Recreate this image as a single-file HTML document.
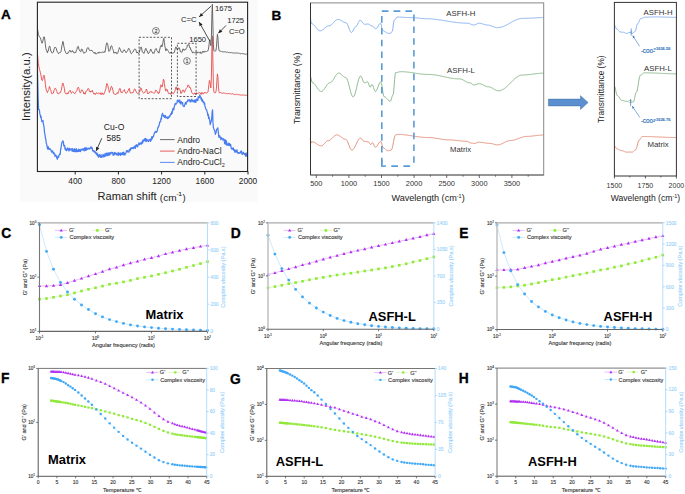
<!DOCTYPE html>
<html><head><meta charset="utf-8"><style>
html,body{margin:0;padding:0;background:#fff;width:685px;height:494px;overflow:hidden}
svg{display:block;font-family:"Liberation Sans",sans-serif}
</style></head><body>
<svg width="685" height="494" viewBox="0 0 685 494">
<defs><clipPath id="clipA"><rect x="37.4" y="2.2" width="210.2" height="169.3"/></clipPath></defs>
<rect width="685" height="494" fill="#fff"/>
<rect x="20" y="0" width="237.5" height="202" fill="#fafafa"/>
<g clip-path="url(#clipA)">
<polyline points="37.4,69.27 37.8,83.61 38.2,99.05 38.6,109.47 39,109.42 39.4,110.09 39.8,113.65 40.2,114.72 40.6,117.47 41,116.05 41.4,118.91 41.8,121.68 42.2,121.31 42.6,121.29 43,120.64 43.4,123.82 43.8,125.55 44.2,128.2 44.6,133.37 45,134.55 45.4,138.24 45.8,138.85 46.2,143.03 46.6,144.12 47,145.98 47.4,148.17 47.8,149.17 48.2,146.74 48.6,148.83 49,149.34 49.4,148.4 49.8,149.34 50.2,148.97 50.6,149.56 51,150.12 51.4,151.67 51.8,152.22 52.2,151.08 52.6,150.81 53,152.26 53.4,153.83 53.8,152.53 54.2,153.5 54.6,153.71 55,156.31 55.4,156.05 55.8,154.98 56.2,155.7 56.6,157.28 57,158.39 57.4,159.27 57.8,156.67 58.2,156.18 58.6,157.25 59,155.54 59.4,154.37 59.8,153.72 60.2,154.34 60.6,149.76 61,148.23 61.4,145.11 61.8,142.92 62.2,142.04 62.6,141.16 63,140.87 63.4,142.17 63.8,145.84 64.2,145.33 64.6,145.34 65,149.07 65.4,148.12 65.8,150.15 66.2,149.1 66.6,150.75 67,149.35 67.4,148.36 67.8,147.89 68.2,149.75 68.6,150.08 69,151.03 69.4,148.27 69.8,150.11 70.2,149.29 70.6,149.78 71,148.59 71.4,149.09 71.8,149.93 72.2,151.33 72.6,148.59 73,149.92 73.4,151.02 73.8,151.6 74.2,149.02 74.6,148.81 75,151.61 75.4,151.76 75.8,150.11 76.2,148.68 76.6,151.68 77,149.88 77.4,151.67 77.8,150.74 78.2,151.46 78.6,149.23 79,151.39 79.4,149.51 79.8,150.16 80.2,151.64 80.6,151.49 81,149.21 81.4,149.25 81.8,149.78 82.2,150.09 82.6,149.55 83,148.58 83.4,148.92 83.8,150.46 84.2,150.96 84.6,147.97 85,149.65 85.4,150.23 85.8,147.7 86.2,150.34 86.6,147.8 87,149.36 87.4,149.1 87.8,149.28 88.2,148.1 88.6,148.41 89,148.87 89.4,148.26 89.8,148.96 90.2,148.16 90.6,148.04 91,146.55 91.4,148.49 91.8,147.96 92.2,147.83 92.6,150.35 93,151.13 93.4,150.77 93.8,150.55 94.2,152.09 94.6,151.21 95,151.65 95.4,153.04 95.8,152.26 96.2,153.82 96.6,154.41 97,153.18 97.4,155.57 97.8,154.06 98.2,156.64 98.6,157.15 99,156.27 99.4,154.62 99.8,156.06 100.2,155.54 100.6,157.4 101,154.53 101.4,156.89 101.8,157.27 102.2,156.28 102.6,156.47 103,154.27 103.4,156.86 103.8,155.1 104.2,156.59 104.6,156.36 105,153.71 105.4,155.74 105.8,156.13 106.2,153.1 106.6,153.98 107,155.26 107.4,153.14 107.8,155.55 108.2,153.35 108.6,155.1 109,152.72 109.4,153.85 109.8,155.17 110.2,152.71 110.6,152.89 111,153.72 111.4,153.08 111.8,152.13 112.2,152.62 112.6,152.55 113,155.18 113.4,154.31 113.8,155.04 114.2,152.57 114.6,154.67 115,152.39 115.4,153.8 115.8,154.16 116.2,153.22 116.6,154.97 117,153.89 117.4,153.97 117.8,155 118.2,152.36 118.6,155.38 119,154.14 119.4,153.34 119.8,154.71 120.2,152.9 120.6,155.37 121,153.96 121.4,153.22 121.8,154.6 122.2,153.5 122.6,152.6 123,154.53 123.4,152.16 123.8,154.79 124.2,152.86 124.6,154.11 125,155.03 125.4,153.42 125.8,153.44 126.2,151.99 126.6,150.68 127,150.54 127.4,150.68 127.8,152.01 128.2,151.14 128.6,151.16 129,152.21 129.4,149.36 129.8,149.43 130.2,150.63 130.6,148.23 131,147.91 131.4,148.86 131.8,147.76 132.2,148.36 132.6,147.66 133,148.63 133.4,148.39 133.8,146.83 134.2,148.01 134.6,147.25 135,145.84 135.4,148.31 135.8,145.7 136.2,145.13 136.6,144.7 137,146.29 137.4,146.83 137.8,146.27 138.2,144.73 138.6,143.97 139,142.82 139.4,144.67 139.8,144.09 140.2,143.07 140.6,143.78 141,142.79 141.4,144.17 141.8,143.18 142.2,141.23 142.6,143.16 143,139.94 143.4,141.3 143.8,140.58 144.2,139.71 144.6,138.8 145,140.95 145.4,138.41 145.8,140.32 146.2,141.72 146.6,139.07 147,139.34 147.4,140.8 147.8,140.53 148.2,141.06 148.6,141.71 149,139.61 149.4,140.14 149.8,140.18 150.2,139.07 150.6,141.33 151,140.37 151.4,139.54 151.8,136.53 152.2,138.79 152.6,137.85 153,136.3 153.4,136.65 153.8,135.06 154.2,133.7 154.6,132.69 155,132.52 155.4,131.27 155.8,131.68 156.2,132.49 156.6,131.71 157,131.62 157.4,130.42 157.8,127.71 158.2,127.5 158.6,125.91 159,125.91 159.4,123.82 159.8,121.75 160.2,121.84 160.6,121.74 161,118.01 161.4,119.07 161.8,114.93 162.2,114.57 162.6,113.3 163,114.83 163.4,116.31 163.8,116.44 164.2,115.47 164.6,117.46 165,115.7 165.4,115.51 165.8,117.9 166.2,117.07 166.6,117.4 167,117.42 167.4,118.6 167.8,116.98 168.2,118.36 168.6,117.48 169,117.64 169.4,115.83 169.8,116.42 170.2,115.5 170.6,114.22 171,113.51 171.4,114.39 171.8,111.62 172.2,113.53 172.6,110.01 173,108.7 173.4,108.05 173.8,109.93 174.2,107.03 174.6,105.42 175,104.12 175.4,103.25 175.8,104.54 176.2,103.54 176.6,103.27 177,102.93 177.4,100.16 177.8,101.47 178.2,100.22 178.6,101.28 179,101.69 179.4,102.35 179.8,99.95 180.2,103.08 180.6,103.65 181,104.16 181.4,101.72 181.8,102.46 182.2,102.55 182.6,102.69 183,105.86 183.4,106.15 183.8,105.95 184.2,106.58 184.6,105.47 185,103.85 185.4,102.77 185.8,102.31 186.2,104.11 186.6,101.78 187,101.72 187.4,101.62 187.8,99.81 188.2,100.16 188.6,99.8 189,100.95 189.4,99.83 189.8,99.74 190.2,101.99 190.6,100.49 191,101.74 191.4,101.01 191.8,99.08 192.2,100.45 192.6,100.59 193,101.8 193.4,100.42 193.8,101.7 194.2,101.2 194.6,100.17 195,102.43 195.4,99.88 195.8,102.42 196.2,100.28 196.6,99.09 197,99.16 197.4,100.46 197.8,100.58 198.2,96.66 198.6,97.7 199,97.09 199.4,97.52 199.8,94.83 200.2,96.59 200.6,96.8 201,99.16 201.4,97.93 201.8,100.96 202.2,99.43 202.6,99.9 203,102.26 203.4,102.29 203.8,101.68 204.2,104.18 204.6,103 205,106.49 205.4,107.39 205.8,108.91 206.2,109.58 206.6,109.87 207,111.24 207.4,112.43 207.8,115.32 208.2,114.06 208.6,118.34 209,116.95 209.4,119.12 209.8,120.87 210.2,124.59 210.6,123.15 211,121.02 211.4,121.02 211.8,117.09 212.2,111.3 212.6,109.79 213,123.28 213.4,127.62 213.8,128.8 214.2,129.33 214.6,130.8 215,131.76 215.4,134.4 215.8,132.86 216.2,132.21 216.6,129.34 217,129.01 217.4,128.6 217.8,127.87 218.2,130.73 218.6,135.3 219,137.28 219.4,135.61 219.8,135.98 220.2,136.89 220.6,138.79 221,139.74 221.4,137.7 221.8,138.01 222.2,138.27 222.6,138.95 223,140.19 223.4,138.76 223.8,139.86 224.2,139.5 224.6,143.57 225,142.69 225.4,139.98 225.8,144.41 226.2,140.58 226.6,142.24 227,145.42 227.4,144.82 227.8,144.93 228.2,143.9 228.6,143.16 229,145.69 229.4,143.54 229.8,144.43 230.2,145.71 230.6,144.41 231,146.57 231.4,148.86 231.8,148.8 232.2,148.28 232.6,149.32 233,148.91 233.4,147.77 233.8,150.4 234.2,149.59 234.6,151.35 235,152.3 235.4,150.15 235.8,150.99 236.2,151.98 236.6,150.56 237,149.78 237.4,152.3 237.8,153.2 238.2,152.84 238.6,152.63 239,153.51 239.4,152.83 239.8,152.79 240.2,152.04 240.6,151.51 241,153.18 241.4,150.78 241.8,152.48 242.2,154.37 242.6,154.19 243,153.93 243.4,152.26 243.8,153.25 244.2,153.55 244.6,154.5 245,153.63 245.4,155.05 245.8,156.43 246.2,152.99 246.6,155.4 247,156.15 247.4,154.43" fill="none" stroke="#4a7ef0" stroke-width="1.25" stroke-linejoin="round"/>
<polyline points="37.4,52.62 37.9,58.46 38.4,63.44 38.9,66.91 39.4,69.17 39.9,70.65 40.4,72.7 40.9,74.95 41.4,77.99 41.9,80.05 42.4,80.65 42.9,78.9 43.4,76.44 43.9,75.17 44.4,76.17 44.9,79.83 45.4,84.17 45.9,88.03 46.4,90.38 46.9,91.63 47.4,92.64 47.9,91.29 48.4,89.91 48.9,89.43 49.4,86.47 49.9,87.91 50.4,89.48 50.9,90.29 51.4,93.24 51.9,93.97 52.4,93.58 52.9,93.59 53.4,93.12 53.9,90.59 54.4,89.77 54.9,88.27 55.4,88.34 55.9,88.9 56.4,90.44 56.9,91.58 57.4,93.42 57.9,93.67 58.4,93.98 58.9,93.15 59.4,92.73 59.9,92.77 60.4,92.7 60.9,90.97 61.4,90.22 61.9,86.7 62.4,84.12 62.9,83 63.4,84.22 63.9,86.56 64.4,88.56 64.9,92.36 65.4,93.49 65.9,93.52 66.4,93.76 66.9,94.04 67.4,92.83 67.9,94.02 68.4,92.63 68.9,91.47 69.4,90.87 69.9,91.21 70.4,90.4 70.9,92.27 71.4,93.38 71.9,92.45 72.4,91.81 72.9,91.69 73.4,92.29 73.9,93.05 74.4,93.35 74.9,93.7 75.4,92.5 75.9,92.11 76.4,91.23 76.9,90.64 77.4,88.19 77.9,87.89 78.4,87.15 78.9,88.59 79.4,90.61 79.9,92.53 80.4,92.77 80.9,92.01 81.4,90.06 81.9,89.77 82.4,90.02 82.9,91.22 83.4,91.74 83.9,94.02 84.4,92.85 84.9,94.29 85.4,93.8 85.9,91.25 86.4,91.15 86.9,90.76 87.4,90.11 87.9,88.62 88.4,88.46 88.9,89.11 89.4,91.63 89.9,91.07 90.4,92.22 90.9,91.07 91.4,91.14 91.9,91.55 92.4,90.22 92.9,92.51 93.4,92.82 93.9,94.15 94.4,94.02 94.9,93.14 95.4,94.49 95.9,93.66 96.4,92.74 96.9,92.7 97.4,93.67 97.9,93.59 98.4,93.29 98.9,92.97 99.4,93.37 99.9,93.32 100.4,94.36 100.9,92.69 101.4,94.18 101.9,94.36 102.4,92.92 102.9,94.52 103.4,94.07 103.9,94.32 104.4,92.7 104.9,91.91 105.4,90.12 105.9,88.72 106.4,85.28 106.9,83.44 107.4,84.18 107.9,86.13 108.4,88.34 108.9,90.36 109.4,92.43 109.9,90.63 110.4,90.3 110.9,87.15 111.4,86.22 111.9,87.15 112.4,88.09 112.9,90.39 113.4,93.08 113.9,93.83 114.4,94.09 114.9,93.87 115.4,94.47 115.9,94.53 116.4,93.75 116.9,94.05 117.4,92.56 117.9,93.44 118.4,91.79 118.9,90.79 119.4,89.21 119.9,88.34 120.4,89.05 120.9,92.43 121.4,92 121.9,93.07 122.4,92.45 122.9,91.33 123.4,90.92 123.9,90.62 124.4,89.54 124.9,91.52 125.4,92.04 125.9,93.31 126.4,93.23 126.9,92.62 127.4,91.92 127.9,90.68 128.4,90.44 128.9,88.66 129.4,88.54 129.9,91.41 130.4,93.13 130.9,92.99 131.4,92.76 131.9,92.97 132.4,92.73 132.9,92.98 133.4,91.78 133.9,90.73 134.4,89.13 134.9,88.79 135.4,89.86 135.9,91.08 136.4,91.95 136.9,92.91 137.4,93.52 137.9,93.32 138.4,93.19 138.9,92.34 139.4,91.93 139.9,91.7 140.4,88.06 140.9,87.65 141.4,88.43 141.9,90.69 142.4,91.25 142.9,92.49 143.4,92.87 143.9,93.11 144.4,92.67 144.9,92.61 145.4,91.1 145.9,90.37 146.4,89.02 146.9,90.24 147.4,92.82 147.9,93.95 148.4,93.38 148.9,93.55 149.4,91.97 149.9,91.95 150.4,92.04 150.9,91.26 151.4,91.58 151.9,92.71 152.4,92.19 152.9,92.47 153.4,92.75 153.9,93.35 154.4,93.12 154.9,92.57 155.4,90.82 155.9,89.9 156.4,90.49 156.9,91.07 157.4,92.49 157.9,92.2 158.4,93.9 158.9,92.49 159.4,92.76 159.9,90.07 160.4,86.76 160.9,84.77 161.4,85.29 161.9,87.1 162.4,86.65 162.9,82.5 163.4,79.23 163.9,79.9 164.4,83.32 164.9,87.32 165.4,89.84 165.9,91.16 166.4,89.22 166.9,89.16 167.4,89.85 167.9,92.05 168.4,92.65 168.9,93.89 169.4,93.39 169.9,93 170.4,93.05 170.9,94.47 171.4,93.96 171.9,93.17 172.4,92.59 172.9,93.53 173.4,93.81 173.9,92.99 174.4,91.83 174.9,91.04 175.4,89.59 175.9,87.02 176.4,87.08 176.9,89.19 177.4,90.36 177.9,90.42 178.4,87.96 178.9,88.14 179.4,88.57 179.9,89.9 180.4,91.11 180.9,93.62 181.4,92.35 181.9,92.68 182.4,90.49 182.9,89.8 183.4,90.96 183.9,90.62 184.4,92.39 184.9,91.36 185.4,90.08 185.9,89.12 186.4,88.31 186.9,87.62 187.4,87.21 187.9,84.98 188.4,85.32 188.9,85.31 189.4,87.61 189.9,87.03 190.4,88.06 190.9,89.26 191.4,90.95 191.9,92.78 192.4,93.34 192.9,93.44 193.4,94.22 193.9,94.23 194.4,93.1 194.9,92.85 195.4,94.37 195.9,94 196.4,92.57 196.9,93.83 197.4,93.26 197.9,93.25 198.4,93.17 198.9,92.84 199.4,92.51 199.9,93.06 200.4,93.16 200.9,94.31 201.4,92.58 201.9,94.21 202.4,92.63 202.9,92.87 203.4,93.75 203.9,93.69 204.4,92.85 204.9,92.03 205.4,92.85 205.9,92.74 206.4,93.05 206.9,92.6 207.4,92.6 207.9,92.24 208.4,89.28 208.9,84.64 209.4,80.48 209.9,81.04 210.4,85.39 210.9,87.93 211.4,77.25 211.9,48.13 212.4,36 212.9,61.12 213.4,85.63 213.9,91.97 214.4,92.63 214.9,93.07 215.4,92.8 215.9,91.9 216.4,88.79 216.9,80.62 217.4,73.9 217.9,76.97 218.4,86.1 218.9,91.44 219.4,92.68 219.9,93.05 220.4,92.55 220.9,92.73 221.4,92.93 221.9,93.27 222.4,93.32 222.9,93.03 223.4,93 223.9,93.15 224.4,93.24 224.9,93.55 225.4,93.16 225.9,93.58 226.4,93.59 226.9,93.69 227.4,93.71 227.9,93.67 228.4,93.55 228.9,93.59 229.4,93.67 229.9,93.97 230.4,93.6 230.9,93.72 231.4,94.11 231.9,93.86 232.4,93.8 232.9,93.83 233.4,94.19 233.9,94.11 234.4,94.55 234.9,94.54 235.4,94.66 235.9,94.27 236.4,94.21 236.9,94.27 237.4,94.56 237.9,94.74 238.4,94.63 238.9,94.56 239.4,94.72 239.9,94.89 240.4,94.97 240.9,95.07 241.4,95.18 241.9,95.12 242.4,94.85 242.9,95.33 243.4,95.05 243.9,95.26 244.4,95.2 244.9,95.47 245.4,95.2 245.9,95.28 246.4,95.33 246.9,95.32 247.4,95.81" fill="none" stroke="#e84a4a" stroke-width="0.9" stroke-linejoin="round"/>
<polyline points="37.4,28 37.9,31.5 38.4,34.47 38.9,35.77 39.4,36.81 39.9,37.1 40.4,37.72 40.9,39.63 41.4,41.47 41.9,43.22 42.4,42.88 42.9,40.88 43.4,38.25 43.9,36.71 44.4,37.05 44.9,40.32 45.4,44.74 45.9,48.49 46.4,50.52 46.9,51.51 47.4,52.8 47.9,50.48 48.4,50.78 48.9,47.78 49.4,46.15 49.9,46.34 50.4,48.41 50.9,51.41 51.4,51.47 51.9,52.87 52.4,53.1 52.9,52.35 53.4,52.05 53.9,49.9 54.4,48.28 54.9,47.11 55.4,47.45 55.9,47.57 56.4,48.83 56.9,51 57.4,51.95 57.9,52.31 58.4,53.59 58.9,53.48 59.4,52.55 59.9,53.05 60.4,52.43 60.9,51.9 61.4,49.4 61.9,45.54 62.4,44.21 62.9,41.37 63.4,43.09 63.9,46.48 64.4,48.24 64.9,51.13 65.4,51.45 65.9,53.23 66.4,53.6 66.9,53.25 67.4,53.83 67.9,52.55 68.4,52.9 68.9,51.89 69.4,50.88 69.9,50.05 70.4,51.05 70.9,52.06 71.4,51.76 71.9,52.17 72.4,50.55 72.9,51.51 73.4,51.59 73.9,52.88 74.4,53.13 74.9,52.36 75.4,52.49 75.9,52.53 76.4,50.15 76.9,49.45 77.4,47.3 77.9,46.36 78.4,46.61 78.9,49.38 79.4,49.7 79.9,51.05 80.4,51.54 80.9,51.78 81.4,49.01 81.9,49 82.4,49.56 82.9,51.42 83.4,52.52 83.9,53.33 84.4,52.38 84.9,52.53 85.4,52.01 85.9,52.36 86.4,51.52 86.9,48.79 87.4,47.9 87.9,47.55 88.4,47.75 88.9,49.03 89.4,50.28 89.9,50.54 90.4,50.43 90.9,50.99 91.4,50.19 91.9,50.14 92.4,51.23 92.9,51.62 93.4,52.2 93.9,52.97 94.4,53.33 94.9,52.15 95.4,53.85 95.9,53.62 96.4,53.8 96.9,53.65 97.4,52.84 97.9,52.85 98.4,52.26 98.9,53.32 99.4,52.17 99.9,52.18 100.4,52.46 100.9,52.37 101.4,52.72 101.9,52.15 102.4,52.04 102.9,52.33 103.4,52.2 103.9,52.6 104.4,51.53 104.9,52.27 105.4,49.92 105.9,46.38 106.4,43.96 106.9,42.77 107.4,43.41 107.9,45.18 108.4,49.29 108.9,51.5 109.4,51.05 109.9,50.38 110.4,47.95 110.9,46.21 111.4,45.73 111.9,46.01 112.4,48.73 112.9,49.32 113.4,50.57 113.9,53.32 114.4,52.88 114.9,52.25 115.4,53.08 115.9,52.06 116.4,53.06 116.9,53.92 117.4,53.54 117.9,52.72 118.4,50.76 118.9,49.36 119.4,47.6 119.9,48.66 120.4,49.36 120.9,51.49 121.4,51.75 121.9,51.92 122.4,52.73 122.9,52.06 123.4,50.49 123.9,49.62 124.4,50 124.9,51.04 125.4,51.24 125.9,52.57 126.4,52.5 126.9,51.69 127.4,51 127.9,50.17 128.4,48.49 128.9,48.39 129.4,49.36 129.9,49.83 130.4,52.35 130.9,53.41 131.4,53.73 131.9,52.66 132.4,52.33 132.9,52.09 133.4,51.33 133.9,50 134.4,49.21 134.9,48.79 135.4,49.11 135.9,49.88 136.4,51.77 136.9,53.02 137.4,51.98 137.9,53.23 138.4,53.67 138.9,53.12 139.4,52.21 139.9,50.06 140.4,47.5 140.9,47.56 141.4,47.17 141.9,49.91 142.4,52.09 142.9,52.08 143.4,52.51 143.9,53.54 144.4,52.56 144.9,50.38 145.4,48.99 145.9,48.26 146.4,50.12 146.9,51.12 147.4,51.03 147.9,53.14 148.4,53.73 148.9,53.02 149.4,52 149.9,51.6 150.4,49.78 150.9,48.97 151.4,51.14 151.9,51.4 152.4,52.07 152.9,53.45 153.4,52.63 153.9,53.38 154.4,52.74 154.9,50.44 155.4,49.21 155.9,48.52 156.4,48.76 156.9,50.65 157.4,51.23 157.9,52.29 158.4,51.93 158.9,53.17 159.4,50.96 159.9,49.02 160.4,46.64 160.9,45.64 161.4,44.95 161.9,46.98 162.4,45.58 162.9,42.66 163.4,39.46 163.9,38.21 164.4,42.35 164.9,46.23 165.4,48.72 165.9,50.88 166.4,48.87 166.9,48.83 167.4,49.7 167.9,50.57 168.4,51.34 168.9,52.48 169.4,52.87 169.9,53.42 170.4,52.08 170.9,52.99 171.4,52.37 171.9,52.42 172.4,53.41 172.9,52.87 173.4,52.9 173.9,52.99 174.4,52.45 174.9,49.91 175.4,48.28 175.9,46.89 176.4,47.35 176.9,49.21 177.4,49.74 177.9,49.43 178.4,47.83 178.9,47.74 179.4,47.81 179.9,49.95 180.4,51.89 180.9,51.52 181.4,52.16 181.9,52.23 182.4,51.02 182.9,48.94 183.4,48.99 183.9,50.23 184.4,49.94 184.9,50.16 185.4,49.16 185.9,49.32 186.4,48.35 186.9,47.4 187.4,44.93 187.9,45.42 188.4,45.16 188.9,44.47 189.4,46.74 189.9,47.99 190.4,47.7 190.9,50.35 191.4,50.27 191.9,51.26 192.4,52.86 192.9,52.94 193.4,51.85 193.9,52.53 194.4,52.78 194.9,52.46 195.4,52.19 195.9,52.44 196.4,53.25 196.9,51.85 197.4,52.91 197.9,52.69 198.4,51.84 198.9,52.47 199.4,53.05 199.9,52.82 200.4,51.84 200.9,53.58 201.4,53.07 201.9,53.33 202.4,51.49 202.9,51.7 203.4,51.14 203.9,52.51 204.4,51.39 204.9,51 205.4,51.58 205.9,51.77 206.4,51.6 206.9,51.14 207.4,50.92 207.9,50.97 208.4,49.32 208.9,45.91 209.4,41.15 209.9,39.69 210.4,43.13 210.9,45.75 211.4,37.55 211.9,13.85 212.4,4.3 212.9,24.8 213.4,44.68 213.9,50.72 214.4,50.86 214.9,51.39 215.4,51.11 215.9,50.47 216.4,47.6 216.9,40.76 217.4,34.41 217.9,37.25 218.4,45.29 218.9,49.83 219.4,51.05 219.9,51.28 220.4,51.27 220.9,51.41 221.4,51.53 221.9,51.58 222.4,51.9 222.9,51.67 223.4,51.84 223.9,51.7 224.4,51.85 224.9,51.71 225.4,51.9 225.9,51.81 226.4,52.29 226.9,52.23 227.4,52.06 227.9,52.29 228.4,52.61 228.9,52.17 229.4,52.64 229.9,52.46 230.4,52.55 230.9,52.81 231.4,52.59 231.9,52.71 232.4,52.87 232.9,53.1 233.4,52.77 233.9,53.11 234.4,53.08 234.9,53.09 235.4,53.01 235.9,53.02 236.4,52.9 236.9,52.99 237.4,53.01 237.9,53.46 238.4,53.22 238.9,53.22 239.4,53.22 239.9,53.72 240.4,53.79 240.9,53.72 241.4,53.54 241.9,53.57 242.4,53.65 242.9,53.8 243.4,53.67 243.9,53.89 244.4,53.83 244.9,54.3 245.4,54.36 245.9,54.16 246.4,54.02 246.9,54.51 247.4,54.17" fill="none" stroke="#5a5a5a" stroke-width="0.9" stroke-linejoin="round"/>
</g>
<rect x="139.1" y="37.3" width="32.4" height="61.4" fill="none" stroke="#333" stroke-width="0.8" stroke-dasharray="2,1.6"/>
<rect x="177.4" y="43.3" width="18.7" height="53.2" fill="none" stroke="#333" stroke-width="0.8" stroke-dasharray="2,1.6"/>
<circle cx="155.9" cy="30.9" r="3.4" fill="none" stroke="#333" stroke-width="0.6"/>
<text x="155.9" y="32.85" font-size="5.4" text-anchor="middle" fill="#333" stroke="#333" stroke-width="0.12">2</text>
<circle cx="187" cy="61" r="3.4" fill="none" stroke="#333" stroke-width="0.6"/>
<text x="187" y="62.95" font-size="5.4" text-anchor="middle" fill="#333" stroke="#333" stroke-width="0.12">1</text>
<rect x="37.4" y="2.2" width="210.2" height="169.3" fill="none" stroke="#222" stroke-width="1.1"/>
<line x1="75.2" y1="171.5" x2="75.2" y2="174.5" stroke="#222" stroke-width="1"/>
<text x="75.2" y="183.9" font-size="8.3" text-anchor="middle" fill="#222">400</text>
<line x1="118.4" y1="171.5" x2="118.4" y2="174.5" stroke="#222" stroke-width="1"/>
<text x="118.4" y="183.9" font-size="8.3" text-anchor="middle" fill="#222">800</text>
<line x1="161.6" y1="171.5" x2="161.6" y2="174.5" stroke="#222" stroke-width="1"/>
<text x="161.6" y="183.9" font-size="8.3" text-anchor="middle" fill="#222">1200</text>
<line x1="204.8" y1="171.5" x2="204.8" y2="174.5" stroke="#222" stroke-width="1"/>
<text x="204.8" y="183.9" font-size="8.3" text-anchor="middle" fill="#222">1600</text>
<line x1="248" y1="171.5" x2="248" y2="174.5" stroke="#222" stroke-width="1"/>
<text x="248" y="183.9" font-size="8.3" text-anchor="middle" fill="#222">2000</text>
<text x="97.6" y="200.3" font-size="11.05" fill="#222">Raman shift</text>
<text x="159.8" y="200.6" font-size="9.3" fill="#222" textLength="16.8" lengthAdjust="spacingAndGlyphs">(cm</text>
<text x="176.6" y="196" font-size="6" fill="#222" stroke="#222" stroke-width="0.12">-1</text>
<text x="182.4" y="200.6" font-size="9.3" fill="#222">)</text>
<text x="29.8" y="86.6" font-size="11.35" text-anchor="middle" fill="#222" transform="rotate(-90 29.8 86.6)">Intensity(a.u.)</text>
<text x="1" y="19" font-size="13.6" font-weight="bold" fill="#000" stroke="#000" stroke-width="0.3">A</text>
<text x="215.1" y="11.1" font-size="7.6" fill="#222">1675</text>
<text x="196.5" y="22.4" font-size="7.6" text-anchor="end" fill="#222">C=C</text>
<text x="227.2" y="23" font-size="7.6" fill="#222">1725</text>
<text x="228.9" y="34" font-size="7.6" fill="#222">C=O</text>
<text x="189.2" y="41.8" font-size="7.6" fill="#222">1650</text>
<text x="103.8" y="130.2" font-size="8.6" fill="#222">Cu-O</text>
<text x="106.4" y="140.9" font-size="8.6" fill="#222">585</text>
<line x1="211.2" y1="6" x2="199.1" y2="16.9" stroke="#222" stroke-width="0.8"/>
<polygon points="199.1,16.9 200.87,12.89 203.28,15.56" fill="#222"/>
<line x1="209.8" y1="41.1" x2="199.1" y2="22" stroke="#222" stroke-width="0.8"/>
<polygon points="199.1,22 202.63,24.61 199.48,26.37" fill="#222"/>
<line x1="226" y1="25.5" x2="218.3" y2="33.3" stroke="#222" stroke-width="0.8"/>
<polygon points="218.3,33.3 219.83,29.19 222.39,31.72" fill="#222"/>
<line x1="101.8" y1="138.2" x2="96.1" y2="151.1" stroke="#222" stroke-width="0.8"/>
<polygon points="96.1,151.1 96.07,146.71 99.36,148.17" fill="#222"/>
<line x1="160" y1="139.6" x2="174.6" y2="139.6" stroke="#5a5a5a" stroke-width="0.9"/>
<text x="177.3" y="142.6" font-size="8.5" fill="#222">Andro</text>
<line x1="160" y1="151.1" x2="174.6" y2="151.1" stroke="#e84a4a" stroke-width="0.9"/>
<text x="177.3" y="154.1" font-size="8.5" fill="#222">Andro-NaCl</text>
<line x1="160" y1="162.4" x2="174.6" y2="162.4" stroke="#4a7ef0" stroke-width="0.9"/>
<text x="177.3" y="165.4" font-size="8.5" fill="#222">Andro-CuCl<tspan font-size="5.5" dy="2">2</tspan></text>
<polyline points="310.4,17 310.9,21.49 311.4,23.51 311.9,23.61 312.4,23.82 312.9,24.14 313.4,24.55 313.9,25.04 314.4,25.59 314.9,26.19 315.4,26.83 315.9,27.47 316.4,28.11 316.9,28.71 317.4,29.26 317.9,29.75 318.4,30.16 318.9,30.48 319.4,30.69 319.9,30.79 320.4,30.79 320.9,30.7 321.4,30.55 321.9,30.32 322.4,30.04 322.9,29.7 323.4,29.32 323.9,28.91 324.4,28.48 324.9,28.05 325.4,27.63 325.9,27.23 326.4,26.86 326.9,26.54 327.4,26.28 327.9,26.08 328.4,25.95 328.9,25.9 329.4,25.87 329.9,25.74 330.4,25.52 330.9,25.21 331.4,24.82 331.9,24.37 332.4,23.87 332.9,23.33 333.4,22.76 333.9,22.2 334.4,21.65 334.9,21.12 335.4,20.65 335.9,20.23 336.4,19.89 336.9,19.64 337.4,19.47 337.9,19.4 338.4,19.42 338.9,19.5 339.4,19.64 339.9,19.84 340.4,20.08 340.9,20.36 341.4,20.66 341.9,20.99 342.4,21.31 342.9,21.62 343.4,21.91 343.9,22.17 344.4,22.38 344.9,22.55 345.4,22.65 345.9,22.7 346.4,22.83 346.9,23.35 347.4,24.22 347.9,25.37 348.4,26.71 348.9,28.11 349.4,29.47 349.9,30.67 350.4,31.6 350.9,32.2 351.4,32.4 351.9,32.22 352.4,31.7 352.9,30.92 353.4,29.96 353.9,28.94 354.4,28.01 354.9,27.27 355.4,26.82 355.9,26.69 356.4,26.39 356.9,25.71 357.4,24.72 357.9,23.57 358.4,22.4 358.9,21.37 359.4,20.62 359.9,20.23 360.4,20.24 360.9,20.5 361.4,20.96 361.9,21.56 362.4,22.25 362.9,22.94 363.4,23.54 363.9,24 364.4,24.26 364.9,24.3 365.4,24.27 365.9,24.21 366.4,24.14 366.9,24.07 367.4,24.02 367.9,24 368.4,24.07 368.9,24.27 369.4,24.56 369.9,24.91 370.4,25.27 370.9,25.58 371.4,25.8 371.9,25.9 372.4,25.98 372.9,26.3 373.4,26.81 373.9,27.41 374.4,28 374.9,28.48 375.4,28.75 375.9,28.78 376.4,28.52 376.9,28.01 377.4,27.3 377.9,26.45 378.4,25.55 378.9,24.7 379.4,23.99 379.9,23.48 380.4,23.22 380.9,23.59 381.4,25.65 381.9,28.36 382.4,30.13 382.9,30.35 383.4,30.65 383.9,31.1 384.4,31.53 384.9,31.78 385.4,31.85 385.9,32.12 386.4,32.55 386.9,32.98 387.4,33.25 387.9,33.3 388.4,33.3 388.9,33.3 389.4,33.3 389.9,33.3 390.4,33.3 390.9,33.21 391.4,32.4 391.9,31.49 392.4,31.03 392.9,28.27 393.4,24.03 393.9,20.8 394.4,20.17 394.9,19.83 395.4,19.19 395.9,18.42 396.4,17.7 396.9,17.23 397.4,17.1 397.9,17.1 398.4,17.11 398.9,17.11 399.4,17.12 399.9,17.14 400.4,17.15 400.9,17.17 401.4,17.19 401.9,17.21 402.4,17.24 402.9,17.26 403.4,17.29 403.9,17.31 404.4,17.34 404.9,17.37 405.4,17.4 405.9,17.43 406.4,17.46 406.9,17.49 407.4,17.51 407.9,17.54 408.4,17.56 408.9,17.59 409.4,17.61 409.9,17.63 410.4,17.65 410.9,17.66 411.4,17.68 411.9,17.69 412.4,17.69 412.9,17.7 413.4,17.7 413.9,17.7 414.4,17.72 414.9,17.74 415.4,17.77 415.9,17.8 416.4,17.85 416.9,17.9 417.4,17.96 417.9,18.02 418.4,18.08 418.9,18.15 419.4,18.22 419.9,18.29 420.4,18.35 420.9,18.42 421.4,18.48 421.9,18.53 422.4,18.58 422.9,18.62 423.4,18.65 423.9,18.68 424.4,18.69 424.9,18.7 425.4,18.7 425.9,18.71 426.4,18.71 426.9,18.72 427.4,18.74 427.9,18.75 428.4,18.77 428.9,18.79 429.4,18.82 429.9,18.85 430.4,18.88 430.9,18.91 431.4,18.95 431.9,18.99 432.4,19.03 432.9,19.07 433.4,19.12 433.9,19.17 434.4,19.22 434.9,19.28 435.4,19.34 435.9,19.39 436.4,19.46 436.9,19.52 437.4,19.58 437.9,19.65 438.4,19.72 438.9,19.79 439.4,19.86 439.9,19.94 440.4,20.01 440.9,20.09 441.4,20.17 441.9,20.25 442.4,20.32 442.9,20.41 443.4,20.49 443.9,20.57 444.4,20.65 444.9,20.73 445.4,20.82 445.9,20.9 446.4,20.98 446.9,21.07 447.4,21.15 447.9,21.23 448.4,21.32 448.9,21.4 449.4,21.48 449.9,21.56 450.4,21.64 450.9,21.72 451.4,21.8 451.9,21.87 452.4,21.95 452.9,22.02 453.4,22.09 453.9,22.17 454.4,22.23 454.9,22.3 455.4,22.37 455.9,22.43 456.4,22.49 456.9,22.55 457.4,22.61 457.9,22.67 458.4,22.72 458.9,22.77 459.4,22.82 459.9,22.86 460.4,22.9 460.9,22.94 461.4,22.98 461.9,23.02 462.4,23.05 462.9,23.08 463.4,23.1 463.9,23.12 464.4,23.14 464.9,23.16 465.4,23.18 465.9,23.19 466.4,23.19 466.9,23.2 467.4,23.2 467.9,23.23 468.4,23.3 468.9,23.43 469.4,23.59 469.9,23.78 470.4,23.99 470.9,24.21 471.4,24.42 471.9,24.61 472.4,24.77 472.9,24.9 473.4,24.97 473.9,25 474.4,24.96 474.9,24.85 475.4,24.67 475.9,24.44 476.4,24.18 476.9,23.91 477.4,23.67 477.9,23.45 478.4,23.3 478.9,23.21 479.4,23.2 479.9,23.23 480.4,23.3 480.9,23.4 481.4,23.52 481.9,23.67 482.4,23.84 482.9,24.01 483.4,24.19 483.9,24.36 484.4,24.53 484.9,24.68 485.4,24.8 485.9,24.9 486.4,24.97 486.9,25 487.4,25.01 487.9,25.04 488.4,25.1 488.9,25.18 489.4,25.3 489.9,25.43 490.4,25.58 490.9,25.75 491.4,25.94 491.9,26.13 492.4,26.32 492.9,26.51 493.4,26.7 493.9,26.88 494.4,27.05 494.9,27.2 495.4,27.33 495.9,27.44 496.4,27.52 496.9,27.57 497.4,27.6 497.9,27.6 498.4,27.58 498.9,27.54 499.4,27.48 499.9,27.41 500.4,27.32 500.9,27.21 501.4,27.09 501.9,26.94 502.4,26.79 502.9,26.62 503.4,26.43 503.9,26.23 504.4,26.02 504.9,25.8 505.4,25.56 505.9,25.32 506.4,25.06 506.9,24.8 507.4,24.53 507.9,24.26 508.4,23.98 508.9,23.69 509.4,23.4 509.9,23.12 510.4,22.83 510.9,22.54 511.4,22.25 511.9,21.97 512.4,21.69 512.9,21.41 513.4,21.15 513.9,20.89 514.4,20.63 514.9,20.39 515.4,20.16 515.9,19.94 516.4,19.73 516.9,19.53 517.4,19.35 517.9,19.18 518.4,19.03 518.9,18.89 519.4,18.77 519.9,18.66 520.4,18.57 520.9,18.5 521.4,18.45 521.9,18.42 522.4,18.4 522.9,18.4 523.4,18.4 523.9,18.39 524.4,18.39 524.9,18.38 525.4,18.37 525.9,18.35 526.4,18.34 526.9,18.32 527.4,18.3 527.9,18.28 528.4,18.26 528.9,18.24 529.4,18.21 529.9,18.19 530.4,18.16 530.9,18.13 531.4,18.1 531.9,18.07 532.4,18.04 532.9,18.01 533.4,17.99 533.9,17.96 534.4,17.93 534.9,17.9 535.4,17.87 535.9,17.84 536.4,17.81 536.9,17.79 537.4,17.76 537.9,17.74 538.4,17.72 538.9,17.7 539.4,17.68 539.9,17.66 540.4,17.65 540.9,17.63 541.4,17.62 541.9,17.61 542.4,17.61 542.9,17.6 543.4,17.6" fill="none" stroke="#6f9ff0" stroke-width="0.8" stroke-linejoin="round"/>
<polyline points="310.1,75.8 310.6,76.59 311.1,78.59 311.6,80.91 312.1,82.51 312.6,82.81 313.1,82.94 313.6,83.2 314.1,83.59 314.6,84.1 315.1,84.71 315.6,85.4 316.1,86.14 316.6,86.91 317.1,87.7 317.6,88.46 318.1,89.19 318.6,89.84 319.1,90.41 319.6,90.88 320.1,91.22 320.6,91.43 321.1,91.5 321.6,91.43 322.1,91.23 322.6,90.89 323.1,90.44 323.6,89.88 324.1,89.23 324.6,88.52 325.1,87.77 325.6,86.99 326.1,86.23 326.6,85.49 327.1,84.8 327.6,84.19 328.1,83.67 328.6,83.26 329.1,82.98 329.6,82.82 330.1,82.79 330.6,82.65 331.1,82.36 331.6,81.93 332.1,81.38 332.6,80.72 333.1,79.96 333.6,79.15 334.1,78.3 334.6,77.43 335.1,76.58 335.6,75.78 336.1,75.04 336.6,74.4 337.1,73.87 337.6,73.47 338.1,73.21 338.6,73.1 339.1,73.14 339.6,73.28 340.1,73.52 340.6,73.85 341.1,74.26 341.6,74.71 342.1,75.2 342.6,75.69 343.1,76.16 343.6,76.59 344.1,76.96 344.6,77.24 345.1,77.42 345.6,77.5 346.1,77.64 346.6,78.18 347.1,79.11 347.6,80.4 348.1,81.98 348.6,83.79 349.1,85.74 349.6,87.76 350.1,89.75 350.6,91.62 351.1,93.3 351.6,94.71 352.1,95.79 352.6,96.5 353.1,96.79 353.6,96.65 354.1,96.05 354.6,95.03 355.1,93.61 355.6,91.88 356.1,89.9 356.6,87.76 357.1,85.57 357.6,83.42 358.1,81.4 358.6,79.61 359.1,78.13 359.6,77.02 360.1,76.33 360.6,76.1 361.1,76.38 361.6,77.18 362.1,78.36 362.6,79.73 363.1,81.04 363.6,82.09 364.1,82.7 364.6,82.79 365.1,82.7 365.6,82.52 366.1,82.31 366.6,82.1 367.1,81.95 367.6,81.9 368.1,82.37 368.6,83.61 369.1,85.18 369.6,86.53 370.1,87.18 370.6,86.88 371.1,85.85 371.6,84.82 372.1,84.51 372.6,85.02 373.1,86.16 373.6,87.68 374.1,89.26 374.6,90.59 375.1,91.37 375.6,91.47 376.1,91.09 376.6,90.34 377.1,89.26 377.6,87.97 378.1,86.56 378.6,85.16 379.1,83.9 379.6,82.88 380.1,82.2 380.6,81.91 381.1,82.38 381.6,84.2 382.1,87.05 382.6,90.35 383.1,93.45 383.6,95.75 384.1,96.77 384.6,96.85 385.1,97.03 385.6,97.35 386.1,97.77 386.6,98.28 387.1,98.83 387.6,99.39 388.1,99.93 388.6,100.41 389.1,100.79 389.6,101.06 390.1,101.19 390.6,101.01 391.1,99.95 391.6,98.28 392.1,96.55 392.6,95.33 393.1,94.92 393.6,92.18 394.1,86.48 394.6,79.83 395.1,74.58 395.6,72.6 396.1,72.58 396.6,72.52 397.1,72.43 397.6,72.32 398.1,72.19 398.6,72.06 399.1,71.93 399.6,71.83 400.1,71.75 400.6,71.71 401.1,71.7 401.6,71.7 402.1,71.71 402.6,71.73 403.1,71.74 403.6,71.77 404.1,71.79 404.6,71.82 405.1,71.86 405.6,71.9 406.1,71.94 406.6,71.98 407.1,72.03 407.6,72.09 408.1,72.14 408.6,72.2 409.1,72.27 409.6,72.33 410.1,72.4 410.6,72.47 411.1,72.54 411.6,72.61 412.1,72.69 412.6,72.76 413.1,72.84 413.6,72.92 414.1,73 414.6,73.07 415.1,73.15 415.6,73.23 416.1,73.31 416.6,73.38 417.1,73.46 417.6,73.53 418.1,73.6 418.6,73.67 419.1,73.74 419.6,73.81 420.1,73.87 420.6,73.93 421.1,73.99 421.6,74.05 422.1,74.1 422.6,74.14 423.1,74.19 423.6,74.23 424.1,74.26 424.6,74.3 425.1,74.32 425.6,74.35 426.1,74.37 426.6,74.38 427.1,74.39 427.6,74.4 428.1,74.4 428.6,74.4 429.1,74.41 429.6,74.43 430.1,74.45 430.6,74.48 431.1,74.51 431.6,74.54 432.1,74.59 432.6,74.63 433.1,74.68 433.6,74.74 434.1,74.8 434.6,74.87 435.1,74.94 435.6,75.02 436.1,75.1 436.6,75.18 437.1,75.26 437.6,75.35 438.1,75.45 438.6,75.54 439.1,75.64 439.6,75.75 440.1,75.85 440.6,75.95 441.1,76.06 441.6,76.17 442.1,76.28 442.6,76.39 443.1,76.5 443.6,76.62 444.1,76.73 444.6,76.84 445.1,76.95 445.6,77.06 446.1,77.17 446.6,77.28 447.1,77.39 447.6,77.49 448.1,77.6 448.6,77.7 449.1,77.79 449.6,77.89 450.1,77.98 450.6,78.07 451.1,78.16 451.6,78.24 452.1,78.31 452.6,78.39 453.1,78.46 453.6,78.52 454.1,78.58 454.6,78.64 455.1,78.69 455.6,78.73 456.1,78.77 456.6,78.81 457.1,78.84 457.6,78.86 458.1,78.88 458.6,78.89 459.1,78.9 459.6,78.9 460.1,78.93 460.6,79.01 461.1,79.12 461.6,79.28 462.1,79.48 462.6,79.7 463.1,79.95 463.6,80.23 464.1,80.51 464.6,80.81 465.1,81.11 465.6,81.4 466.1,81.69 466.6,81.95 467.1,82.19 467.6,82.41 468.1,82.59 468.6,82.73 469.1,82.83 469.6,82.89 470.1,82.9 470.6,83.02 471.1,83.29 471.6,83.66 472.1,84.08 472.6,84.48 473.1,84.79 473.6,84.97 474.1,85 474.6,84.94 475.1,84.84 475.6,84.7 476.1,84.52 476.6,84.33 477.1,84.14 477.6,83.97 478.1,83.83 478.6,83.74 479.1,83.7 479.6,83.71 480.1,83.77 480.6,83.87 481.1,84.01 481.6,84.19 482.1,84.4 482.6,84.63 483.1,84.88 483.6,85.14 484.1,85.41 484.6,85.67 485.1,85.92 485.6,86.14 486.1,86.35 486.6,86.52 487.1,86.65 487.6,86.74 488.1,86.79 488.6,86.8 489.1,86.85 489.6,86.94 490.1,87.08 490.6,87.26 491.1,87.48 491.6,87.73 492.1,88.01 492.6,88.3 493.1,88.61 493.6,88.93 494.1,89.24 494.6,89.54 495.1,89.82 495.6,90.07 496.1,90.3 496.6,90.49 497.1,90.64 497.6,90.74 498.1,90.79 498.6,90.8 499.1,90.77 499.6,90.7 500.1,90.61 500.6,90.48 501.1,90.32 501.6,90.13 502.1,89.91 502.6,89.65 503.1,89.37 503.6,89.07 504.1,88.73 504.6,88.38 505.1,88 505.6,87.59 506.1,87.17 506.6,86.73 507.1,86.27 507.6,85.8 508.1,85.32 508.6,84.83 509.1,84.33 509.6,83.82 510.1,83.31 510.6,82.8 511.1,82.29 511.6,81.78 512.1,81.27 512.6,80.77 513.1,80.28 513.6,79.81 514.1,79.34 514.6,78.89 515.1,78.46 515.6,78.04 516.1,77.65 516.6,77.28 517.1,76.93 517.6,76.61 518.1,76.31 518.6,76.04 519.1,75.8 519.6,75.59 520.1,75.41 520.6,75.26 521.1,75.15 521.6,75.07 522.1,75.02 522.6,75 523.1,75 523.6,74.99 524.1,74.98 524.6,74.96 525.1,74.94 525.6,74.91 526.1,74.88 526.6,74.85 527.1,74.81 527.6,74.76 528.1,74.71 528.6,74.66 529.1,74.61 529.6,74.55 530.1,74.49 530.6,74.43 531.1,74.37 531.6,74.31 532.1,74.24 532.6,74.17 533.1,74.11 533.6,74.04 534.1,73.97 534.6,73.91 535.1,73.84 535.6,73.78 536.1,73.72 536.6,73.66 537.1,73.6 537.6,73.55 538.1,73.5 538.6,73.45 539.1,73.4 539.6,73.36 540.1,73.33 540.6,73.29 541.1,73.27 541.6,73.24 542.1,73.23 542.6,73.21 543.1,73.2 543.6,73.2" fill="none" stroke="#72aa74" stroke-width="0.8" stroke-linejoin="round"/>
<polyline points="310.1,138.4 310.6,140.29 311.1,142.71 311.6,142.57 312.1,142.03 312.6,141.91 313.1,141.96 313.6,142.08 314.1,142.27 314.6,142.5 315.1,142.78 315.6,143.09 316.1,143.43 316.6,143.79 317.1,144.15 317.6,144.5 318.1,144.84 318.6,145.14 319.1,145.4 319.6,145.61 320.1,145.77 320.6,145.87 321.1,145.9 321.6,145.83 322.1,145.64 322.6,145.33 323.1,144.92 323.6,144.43 324.1,143.88 324.6,143.3 325.1,142.72 325.6,142.17 326.1,141.68 326.6,141.27 327.1,140.96 327.6,140.77 328.1,140.7 328.6,140.65 329.1,140.52 329.6,140.29 330.1,139.99 330.6,139.62 331.1,139.19 331.6,138.72 332.1,138.21 332.6,137.7 333.1,137.18 333.6,136.69 334.1,136.23 334.6,135.82 335.1,135.48 335.6,135.21 336.1,135.02 336.6,134.92 337.1,134.91 337.6,134.97 338.1,135.1 338.6,135.29 339.1,135.54 339.6,135.85 340.1,136.19 340.6,136.56 341.1,136.94 341.6,137.34 342.1,137.72 342.6,138.08 343.1,138.42 343.6,138.71 344.1,138.95 344.6,139.13 345.1,139.25 345.6,139.3 346.1,139.41 346.6,139.87 347.1,140.64 347.6,141.69 348.1,142.93 348.6,144.28 349.1,145.67 349.6,146.99 350.1,148.16 350.6,149.1 351.1,149.75 351.6,150.07 352.1,150.07 352.6,149.85 353.1,149.46 353.6,148.89 354.1,148.17 354.6,147.32 355.1,146.37 355.6,145.34 356.1,144.27 356.6,143.19 357.1,142.14 357.6,141.15 358.1,140.25 358.6,139.48 359.1,138.85 359.6,138.38 360.1,138.1 360.6,138 361.1,138.17 361.6,138.64 362.1,139.32 362.6,140.08 363.1,140.76 363.6,141.23 364.1,141.4 364.6,141.42 365.1,141.46 365.6,141.54 366.1,141.62 366.6,141.71 367.1,141.8 367.6,141.86 368.1,141.89 368.6,141.95 369.1,142.45 369.6,143.29 370.1,144.09 370.6,144.49 371.1,144.3 371.6,143.65 372.1,143 372.6,142.81 373.1,143.25 373.6,144.19 374.1,145.36 374.6,146.42 375.1,147.08 375.6,147.18 376.1,146.95 376.6,146.5 377.1,145.85 377.6,145.06 378.1,144.21 378.6,143.37 379.1,142.61 379.6,141.99 380.1,141.58 380.6,141.41 381.1,141.78 381.6,143.17 382.1,145.1 382.6,146.89 383.1,147.9 383.6,148.03 384.1,148.21 384.6,148.54 385.1,148.97 385.6,149.45 386.1,149.91 386.6,150.3 387.1,150.58 387.6,150.7 388.1,150.68 388.6,150.61 389.1,150.49 389.6,150.36 390.1,150.23 390.6,150.14 391.1,150.1 391.6,149.79 392.1,148.58 392.6,146.61 393.1,144.12 393.6,141.42 394.1,138.86 394.6,136.76 395.1,135.38 395.6,134.9 396.1,134.8 396.6,134.58 397.1,134.42 397.6,134.4 398.1,134.41 398.6,134.41 399.1,134.43 399.6,134.44 400.1,134.46 400.6,134.49 401.1,134.52 401.6,134.55 402.1,134.58 402.6,134.62 403.1,134.67 403.6,134.71 404.1,134.76 404.6,134.81 405.1,134.87 405.6,134.93 406.1,134.99 406.6,135.05 407.1,135.12 407.6,135.18 408.1,135.25 408.6,135.33 409.1,135.4 409.6,135.47 410.1,135.55 410.6,135.63 411.1,135.71 411.6,135.78 412.1,135.86 412.6,135.94 413.1,136.02 413.6,136.1 414.1,136.18 414.6,136.26 415.1,136.33 415.6,136.41 416.1,136.49 416.6,136.56 417.1,136.63 417.6,136.7 418.1,136.77 418.6,136.84 419.1,136.9 419.6,136.96 420.1,137.02 420.6,137.08 421.1,137.13 421.6,137.18 422.1,137.23 422.6,137.27 423.1,137.31 423.6,137.35 424.1,137.38 424.6,137.41 425.1,137.43 425.6,137.45 426.1,137.47 426.6,137.48 427.1,137.49 427.6,137.5 428.1,137.5 428.6,137.5 429.1,137.52 429.6,137.53 430.1,137.56 430.6,137.59 431.1,137.62 431.6,137.67 432.1,137.71 432.6,137.77 433.1,137.83 433.6,137.89 434.1,137.96 434.6,138.03 435.1,138.11 435.6,138.18 436.1,138.27 436.6,138.35 437.1,138.44 437.6,138.52 438.1,138.61 438.6,138.7 439.1,138.79 439.6,138.88 440.1,138.96 440.6,139.05 441.1,139.13 441.6,139.22 442.1,139.29 442.6,139.37 443.1,139.44 443.6,139.51 444.1,139.57 444.6,139.63 445.1,139.69 445.6,139.73 446.1,139.78 446.6,139.81 447.1,139.84 447.6,139.87 448.1,139.88 448.6,139.9 449.1,139.9 449.6,139.9 450.1,139.91 450.6,139.92 451.1,139.94 451.6,139.96 452.1,139.99 452.6,140.03 453.1,140.06 453.6,140.11 454.1,140.15 454.6,140.2 455.1,140.26 455.6,140.31 456.1,140.37 456.6,140.43 457.1,140.49 457.6,140.56 458.1,140.62 458.6,140.68 459.1,140.74 459.6,140.8 460.1,140.86 460.6,140.92 461.1,140.98 461.6,141.03 462.1,141.07 462.6,141.12 463.1,141.16 463.6,141.19 464.1,141.23 464.6,141.25 465.1,141.27 465.6,141.29 466.1,141.3 466.6,141.3 467.1,141.33 467.6,141.46 468.1,141.67 468.6,141.93 469.1,142.23 469.6,142.52 470.1,142.78 470.6,142.97 471.1,143.08 471.6,143.1 472.1,143.13 472.6,143.18 473.1,143.24 473.6,143.31 474.1,143.36 474.6,143.39 475.1,143.39 475.6,143.29 476.1,143.08 476.6,142.83 477.1,142.56 477.6,142.35 478.1,142.22 478.6,142.2 479.1,142.21 479.6,142.23 480.1,142.26 480.6,142.3 481.1,142.35 481.6,142.41 482.1,142.47 482.6,142.54 483.1,142.62 483.6,142.7 484.1,142.78 484.6,142.86 485.1,142.94 485.6,143.01 486.1,143.09 486.6,143.15 487.1,143.22 487.6,143.27 488.1,143.32 488.6,143.35 489.1,143.38 489.6,143.39 490.1,143.4 490.6,143.42 491.1,143.47 491.6,143.55 492.1,143.66 492.6,143.79 493.1,143.94 493.6,144.1 494.1,144.26 494.6,144.42 495.1,144.56 495.6,144.69 496.1,144.79 496.6,144.86 497.1,144.89 497.6,144.9 498.1,144.87 498.6,144.81 499.1,144.72 499.6,144.61 500.1,144.46 500.6,144.29 501.1,144.1 501.6,143.89 502.1,143.66 502.6,143.42 503.1,143.17 503.6,142.91 504.1,142.65 504.6,142.39 505.1,142.13 505.6,141.88 506.1,141.65 506.6,141.42 507.1,141.22 507.6,141.04 508.1,140.88 508.6,140.74 509.1,140.64 509.6,140.56 510.1,140.52 510.6,140.5 511.1,140.49 511.6,140.46 512.1,140.41 512.6,140.35 513.1,140.26 513.6,140.16 514.1,140.05 514.6,139.91 515.1,139.77 515.6,139.61 516.1,139.44 516.6,139.26 517.1,139.08 517.6,138.88 518.1,138.69 518.6,138.49 519.1,138.29 519.6,138.09 520.1,137.9 520.6,137.71 521.1,137.53 521.6,137.36 522.1,137.19 522.6,137.04 523.1,136.91 523.6,136.78 524.1,136.67 524.6,136.58 525.1,136.51 525.6,136.46 526.1,136.42 526.6,136.4 527.1,136.4 527.6,136.39 528.1,136.38 528.6,136.36 529.1,136.34 529.6,136.31 530.1,136.27 530.6,136.23 531.1,136.19 531.6,136.14 532.1,136.08 532.6,136.03 533.1,135.97 533.6,135.91 534.1,135.84 534.6,135.78 535.1,135.71 535.6,135.65 536.1,135.58 536.6,135.52 537.1,135.46 537.6,135.4 538.1,135.34 538.6,135.28 539.1,135.23 539.6,135.19 540.1,135.14 540.6,135.11 541.1,135.08 541.6,135.05 542.1,135.03 542.6,135.01 543.1,135 543.6,135" fill="none" stroke="#e0785e" stroke-width="0.8" stroke-linejoin="round"/>
<rect x="310.5" y="2.9" width="233.2" height="172.1" fill="none" stroke="#888" stroke-width="1"/>
<line x1="310.5" y1="2.9" x2="310.5" y2="175" stroke="#333" stroke-width="1"/>
<line x1="310.5" y1="175" x2="543.7" y2="175" stroke="#666" stroke-width="1.1"/>
<line x1="316.3" y1="175" x2="316.3" y2="178" stroke="#444" stroke-width="0.8"/>
<text x="316.3" y="186.2" font-size="7.4" text-anchor="middle" fill="#333">500</text>
<line x1="332.6" y1="175" x2="332.6" y2="176.8" stroke="#444" stroke-width="0.7"/>
<line x1="348.9" y1="175" x2="348.9" y2="178" stroke="#444" stroke-width="0.8"/>
<text x="348.9" y="186.2" font-size="7.4" text-anchor="middle" fill="#333">1000</text>
<line x1="365.2" y1="175" x2="365.2" y2="176.8" stroke="#444" stroke-width="0.7"/>
<line x1="381.5" y1="175" x2="381.5" y2="178" stroke="#444" stroke-width="0.8"/>
<text x="381.5" y="186.2" font-size="7.4" text-anchor="middle" fill="#333">1500</text>
<line x1="397.8" y1="175" x2="397.8" y2="176.8" stroke="#444" stroke-width="0.7"/>
<line x1="414.1" y1="175" x2="414.1" y2="178" stroke="#444" stroke-width="0.8"/>
<text x="414.1" y="186.2" font-size="7.4" text-anchor="middle" fill="#333">2000</text>
<line x1="430.4" y1="175" x2="430.4" y2="176.8" stroke="#444" stroke-width="0.7"/>
<line x1="446.7" y1="175" x2="446.7" y2="178" stroke="#444" stroke-width="0.8"/>
<text x="446.7" y="186.2" font-size="7.4" text-anchor="middle" fill="#333">2500</text>
<line x1="463" y1="175" x2="463" y2="176.8" stroke="#444" stroke-width="0.7"/>
<line x1="479.3" y1="175" x2="479.3" y2="178" stroke="#444" stroke-width="0.8"/>
<text x="479.3" y="186.2" font-size="7.4" text-anchor="middle" fill="#333">3000</text>
<line x1="495.6" y1="175" x2="495.6" y2="176.8" stroke="#444" stroke-width="0.7"/>
<line x1="511.9" y1="175" x2="511.9" y2="178" stroke="#444" stroke-width="0.8"/>
<text x="511.9" y="186.2" font-size="7.4" text-anchor="middle" fill="#333">3500</text>
<line x1="528.2" y1="175" x2="528.2" y2="176.8" stroke="#444" stroke-width="0.7"/>
<text x="391.4" y="201" font-size="9.1" fill="#222">Wavelength (cm<tspan font-size="5.5" dy="-3.5">-1</tspan><tspan dy="3.5">)</tspan></text>
<text x="300.4" y="88.3" font-size="8.8" text-anchor="middle" fill="#222" transform="rotate(-90 300.4 88.3)">Transmittance (%)</text>
<text x="271.6" y="19.5" font-size="13.6" font-weight="bold" fill="#000" stroke="#000" stroke-width="0.3">B</text>
<text x="446.3" y="15.8" font-size="7.8" fill="#333">ASFH-H</text>
<text x="447.1" y="73.2" font-size="7.8" fill="#333">ASFH-L</text>
<text x="450.1" y="151.8" font-size="7.7" fill="#333">Matrix</text>
<line x1="381.8" y1="11.1" x2="414" y2="11.1" stroke="#5b9bd5" stroke-width="1.6" stroke-dasharray="6.7,5.1"/>
<line x1="381.8" y1="16.1" x2="381.8" y2="166.1" stroke="#5b9bd5" stroke-width="1.6" stroke-dasharray="6.6,5.2"/>
<line x1="381.8" y1="159.8" x2="381.8" y2="166.1" stroke="#5b9bd5" stroke-width="1.6"/>
<line x1="381" y1="166.1" x2="385.8" y2="166.1" stroke="#5b9bd5" stroke-width="1.6"/>
<line x1="391.3" y1="166.1" x2="414" y2="166.1" stroke="#5b9bd5" stroke-width="1.6" stroke-dasharray="6.7,5.4"/>
<line x1="413.9" y1="14.6" x2="413.9" y2="165" stroke="#5b9bd5" stroke-width="1.6" stroke-dasharray="6.6,5.2"/>
<polygon points="548.4,99.1 580.5,99.1 580.5,95.7 588.1,102.5 580.5,109.5 580.5,105.9 548.4,105.9" fill="#5b8fd0" stroke="#41719c" stroke-width="0.5"/>
<polyline points="614.3,25.3 614.6,25.41 614.9,25.72 615.2,26.2 615.5,26.8 615.8,27.46 616.1,28.11 616.4,28.68 616.7,29.11 617,29.35 617.3,29.41 617.6,29.51 617.9,29.73 618.2,30.05 618.5,30.43 618.8,30.84 619.1,31.23 619.4,31.57 619.7,31.83 620,31.97 620.3,32 620.6,32.01 620.9,32.03 621.2,32.05 621.5,32.09 621.8,32.12 622.1,32.16 622.4,32.2 622.7,32.24 623,32.26 623.3,32.29 623.6,32.3 623.9,32.3 624.2,32.37 624.5,32.52 624.8,32.71 625.1,32.94 625.4,33.16 625.7,33.34 626,33.46 626.3,33.5 626.6,33.48 626.9,33.41 627.2,33.31 627.5,33.17 627.8,33.03 628.1,32.87 628.4,32.74 628.7,32.62 629,32.54 629.3,32.5 629.6,32.51 629.9,32.56 630.2,32.66 630.5,32.78 630.8,32.92 631.1,33.08 631.4,33.22 631.7,33.34 632,33.44 632.3,33.49 632.6,33.49 632.9,33.38 633.2,33.14 633.5,32.81 633.8,32.44 634.1,32.07 634.4,31.77 634.7,31.57 635,31.5 635.3,31.25 635.6,30.53 635.9,29.44 636.2,28.11 636.5,26.73 636.8,25.46 637.1,24.48 637.4,23.91 637.7,23.79 638,23.59 638.3,23.18 638.6,22.6 638.9,21.89 639.2,21.12 639.5,20.36 639.8,19.69 640.1,19.16 640.4,18.82 640.7,18.7 641,18.68 641.3,18.62 641.6,18.52 641.9,18.39 642.2,18.24 642.5,18.07 642.8,17.89 643.1,17.72 643.4,17.56 643.7,17.42 644,17.31 644.3,17.24 644.6,17.2 644.9,17.2 645.2,17.2 645.5,17.2 645.8,17.19 646.1,17.19 646.4,17.18 646.7,17.18 647,17.17 647.3,17.16 647.6,17.15 647.9,17.14 648.2,17.13 648.5,17.12 648.8,17.11 649.1,17.1 649.4,17.09 649.7,17.08 650,17.06 650.3,17.05 650.6,17.04 650.9,17.03 651.2,17.01 651.5,17 651.8,16.99 652.1,16.98 652.4,16.97 652.7,16.96 653,16.95 653.3,16.94 653.6,16.93 653.9,16.92 654.2,16.92 654.5,16.91 654.8,16.91 655.1,16.9 655.4,16.9 655.7,16.9 656,16.9 656.3,16.9 656.6,16.9 656.9,16.9 657.2,16.9 657.5,16.91 657.8,16.91 658.1,16.91 658.4,16.92 658.7,16.92 659,16.93 659.3,16.93 659.6,16.94 659.9,16.94 660.2,16.95 660.5,16.96 660.8,16.97 661.1,16.97 661.4,16.98 661.7,16.99 662,17 662.3,17.01 662.6,17.02 662.9,17.03 663.2,17.04 663.5,17.05 663.8,17.06 664.1,17.07 664.4,17.08 664.7,17.09 665,17.1 665.3,17.12 665.6,17.13 665.9,17.14 666.2,17.15 666.5,17.16 666.8,17.17 667.1,17.18 667.4,17.2 667.7,17.21 668,17.22 668.3,17.23 668.6,17.24 668.9,17.25 669.2,17.26 669.5,17.27 669.8,17.28 670.1,17.29 670.4,17.3 670.7,17.31 671,17.32 671.3,17.33 671.6,17.33 671.9,17.34 672.2,17.35 672.5,17.36 672.8,17.36 673.1,17.37 673.4,17.37 673.7,17.38 674,17.38 674.3,17.39 674.6,17.39 674.9,17.39 675.2,17.4 675.5,17.4 675.8,17.4 676.1,17.4 676.4,17.4" fill="none" stroke="#6f9ff0" stroke-width="0.8" stroke-linejoin="round"/>
<polyline points="614.5,86.3 614.8,86.6 615.1,87.44 615.4,88.74 615.7,90.3 616,91.94 616.3,93.43 616.6,94.59 616.9,95.27 617.2,95.41 617.5,95.48 617.8,95.64 618.1,95.89 618.4,96.2 618.7,96.58 619,97.01 619.3,97.47 619.6,97.95 619.9,98.43 620.2,98.89 620.5,99.32 620.8,99.7 621.1,100.01 621.4,100.26 621.7,100.42 622,100.49 622.3,100.5 622.6,100.52 622.9,100.56 623.2,100.61 623.5,100.67 623.8,100.75 624.1,100.83 624.4,100.92 624.7,101.02 625,101.11 625.3,101.19 625.6,101.28 625.9,101.35 626.2,101.41 626.5,101.45 626.8,101.48 627.1,101.5 627.4,101.49 627.7,101.43 628,101.33 628.3,101.2 628.6,101.05 628.9,100.9 629.2,100.75 629.5,100.63 629.8,100.54 630.1,100.5 630.4,100.52 630.7,100.6 631,100.75 631.3,100.95 631.6,101.18 631.9,101.42 632.2,101.65 632.5,101.85 632.8,102 633.1,102.08 633.4,102.07 633.7,101.68 634,100.85 634.3,99.68 634.6,98.26 634.9,96.74 635.2,95.28 635.5,94 635.8,93.05 636.1,92.51 636.4,92.37 636.7,92 637,91.19 637.3,90 637.6,88.47 637.9,86.71 638.2,84.79 638.5,82.81 638.8,80.89 639.1,79.13 639.4,77.6 639.7,76.41 640,75.6 640.3,75.23 640.6,75.19 640.9,75.11 641.2,74.97 641.5,74.78 641.8,74.54 642.1,74.28 642.4,74 642.7,73.72 643,73.46 643.3,73.22 643.6,73.03 643.9,72.89 644.2,72.81 644.5,72.8 644.8,72.8 645.1,72.8 645.4,72.8 645.7,72.8 646,72.81 646.3,72.81 646.6,72.81 646.9,72.82 647.2,72.82 647.5,72.82 647.8,72.83 648.1,72.83 648.4,72.84 648.7,72.84 649,72.85 649.3,72.86 649.6,72.87 649.9,72.87 650.2,72.88 650.5,72.89 650.8,72.9 651.1,72.91 651.4,72.92 651.7,72.93 652,72.94 652.3,72.95 652.6,72.96 652.9,72.97 653.2,72.98 653.5,72.99 653.8,73 654.1,73.02 654.4,73.03 654.7,73.04 655,73.05 655.3,73.07 655.6,73.08 655.9,73.09 656.2,73.11 656.5,73.12 656.8,73.13 657.1,73.15 657.4,73.16 657.7,73.18 658,73.19 658.3,73.21 658.6,73.22 658.9,73.24 659.2,73.25 659.5,73.27 659.8,73.28 660.1,73.3 660.4,73.31 660.7,73.32 661,73.34 661.3,73.35 661.6,73.37 661.9,73.38 662.2,73.4 662.5,73.41 662.8,73.43 663.1,73.44 663.4,73.46 663.7,73.47 664,73.48 664.3,73.5 664.6,73.51 664.9,73.53 665.2,73.54 665.5,73.55 665.8,73.56 666.1,73.58 666.4,73.59 666.7,73.6 667,73.61 667.3,73.62 667.6,73.64 667.9,73.65 668.2,73.66 668.5,73.67 668.8,73.68 669.1,73.69 669.4,73.7 669.7,73.71 670,73.71 670.3,73.72 670.6,73.73 670.9,73.74 671.2,73.74 671.5,73.75 671.8,73.76 672.1,73.76 672.4,73.77 672.7,73.77 673,73.78 673.3,73.78 673.6,73.79 673.9,73.79 674.2,73.79 674.5,73.79 674.8,73.8 675.1,73.8 675.4,73.8 675.7,73.8 676,73.8" fill="none" stroke="#72aa74" stroke-width="0.8" stroke-linejoin="round"/>
<polyline points="614.5,146 614.8,146.1 615.1,146.39 615.4,146.83 615.7,147.36 616,147.92 616.3,148.43 616.6,148.83 616.9,149.05 617.2,149.1 617.5,149.13 617.8,149.18 618.1,149.25 618.4,149.35 618.7,149.47 619,149.61 619.3,149.75 619.6,149.9 619.9,150.05 620.2,150.19 620.5,150.33 620.8,150.45 621.1,150.55 621.4,150.62 621.7,150.67 622,150.7 622.3,150.71 622.6,150.75 622.9,150.83 623.2,150.93 623.5,151.07 623.8,151.21 624.1,151.37 624.4,151.53 624.7,151.69 625,151.82 625.3,151.94 625.6,152.03 625.9,152.08 626.2,152.1 626.5,152.1 626.8,152.1 627.1,152.1 627.4,152.1 627.7,152.1 628,152.1 628.3,152.1 628.6,152.1 628.9,152.1 629.2,152.1 629.5,152.1 629.8,152.1 630.1,152.1 630.4,152.1 630.7,152.1 631,152.1 631.3,152.1 631.6,152.1 631.9,152.1 632.2,152.1 632.5,152.08 632.8,151.97 633.1,151.77 633.4,151.51 633.7,151.2 634,150.89 634.3,150.6 634.6,150.36 634.9,150.19 635.2,150.11 635.5,150.04 635.8,149.73 636.1,149.18 636.4,148.41 636.7,147.46 637,146.39 637.3,145.24 637.6,144.09 637.9,142.98 638.2,141.99 638.5,141.15 638.8,140.52 639.1,140.13 639.4,140 639.7,139.91 640,139.67 640.3,139.28 640.6,138.79 640.9,138.25 641.2,137.71 641.5,137.22 641.8,136.83 642.1,136.59 642.4,136.5 642.7,136.5 643,136.5 643.3,136.5 643.6,136.5 643.9,136.5 644.2,136.51 644.5,136.51 644.8,136.51 645.1,136.52 645.4,136.52 645.7,136.52 646,136.53 646.3,136.53 646.6,136.54 646.9,136.54 647.2,136.55 647.5,136.56 647.8,136.56 648.1,136.57 648.4,136.58 648.7,136.58 649,136.59 649.3,136.6 649.6,136.61 649.9,136.62 650.2,136.63 650.5,136.64 650.8,136.65 651.1,136.66 651.4,136.67 651.7,136.68 652,136.69 652.3,136.7 652.6,136.71 652.9,136.72 653.2,136.73 653.5,136.75 653.8,136.76 654.1,136.77 654.4,136.78 654.7,136.8 655,136.81 655.3,136.82 655.6,136.83 655.9,136.85 656.2,136.86 656.5,136.88 656.8,136.89 657.1,136.9 657.4,136.92 657.7,136.93 658,136.94 658.3,136.96 658.6,136.97 658.9,136.99 659.2,137 659.5,137.01 659.8,137.03 660.1,137.04 660.4,137.06 660.7,137.07 661,137.08 661.3,137.1 661.6,137.11 661.9,137.12 662.2,137.14 662.5,137.15 662.8,137.17 663.1,137.18 663.4,137.19 663.7,137.2 664,137.22 664.3,137.23 664.6,137.24 664.9,137.25 665.2,137.27 665.5,137.28 665.8,137.29 666.1,137.3 666.4,137.31 666.7,137.32 667,137.33 667.3,137.34 667.6,137.35 667.9,137.36 668.2,137.37 668.5,137.38 668.8,137.39 669.1,137.4 669.4,137.41 669.7,137.42 670,137.42 670.3,137.43 670.6,137.44 670.9,137.44 671.2,137.45 671.5,137.46 671.8,137.46 672.1,137.47 672.4,137.47 672.7,137.48 673,137.48 673.3,137.48 673.6,137.49 673.9,137.49 674.2,137.49 674.5,137.5 674.8,137.5 675.1,137.5 675.4,137.5 675.7,137.5 676,137.5" fill="none" stroke="#e0785e" stroke-width="0.8" stroke-linejoin="round"/>
<rect x="614.4" y="2.4" width="62" height="173.6" fill="none" stroke="#333" stroke-width="1"/>
<line x1="614.4" y1="176" x2="614.4" y2="178.5" stroke="#333" stroke-width="0.8"/>
<text x="614.4" y="187.9" font-size="7" text-anchor="middle" fill="#333">1500</text>
<line x1="645.4" y1="176" x2="645.4" y2="178.5" stroke="#333" stroke-width="0.8"/>
<text x="645.4" y="187.9" font-size="7" text-anchor="middle" fill="#333">1750</text>
<line x1="676.4" y1="176" x2="676.4" y2="178.5" stroke="#333" stroke-width="0.8"/>
<text x="676.4" y="187.9" font-size="7" text-anchor="middle" fill="#333">2000</text>
<line x1="629.9" y1="176" x2="629.9" y2="177.5" stroke="#333" stroke-width="0.7"/>
<line x1="660.9" y1="176" x2="660.9" y2="177.5" stroke="#333" stroke-width="0.7"/>
<text x="645.4" y="201" font-size="8.6" text-anchor="middle" fill="#222">Wavelength (cm<tspan font-size="5.5" dy="-3.5">-1</tspan><tspan dy="3.5">)</tspan></text>
<text x="603.9" y="89.2" font-size="8.3" text-anchor="middle" fill="#222" transform="rotate(-90 603.9 89.2)">Transmittance (%)</text>
<text x="643.5" y="15" font-size="7.8" fill="#333">ASFH-H</text>
<text x="644" y="70.7" font-size="7.8" fill="#333">ASFH-L</text>
<text x="647.4" y="146.7" font-size="7.8" fill="#333">Matrix</text>
<line x1="631.2" y1="28.5" x2="631.2" y2="35.5" stroke="#3a78c0" stroke-width="0.7"/>
<line x1="630" y1="32" x2="632.4" y2="32" stroke="#3a78c0" stroke-width="0.5"/>
<line x1="639.6" y1="46.3" x2="632.7" y2="35.5" stroke="#3a78c0" stroke-width="0.6"/>
<polygon points="632.7,35.5 634.97,37.01 633.12,38.2" fill="#3a78c0"/>
<text x="641.2" y="52.5" font-size="4.6" font-weight="bold" fill="#3a78c0" stroke="#3a78c0" stroke-width="0.12">-COO-</text>
<text x="653.6" y="50.2" font-size="4" font-weight="bold" fill="#3a78c0" stroke="#3a78c0" stroke-width="0.12">=1636.56</text>
<line x1="630.6" y1="99" x2="630.6" y2="106" stroke="#3a78c0" stroke-width="0.7"/>
<line x1="629.4" y1="102.5" x2="631.8" y2="102.5" stroke="#3a78c0" stroke-width="0.5"/>
<line x1="640" y1="117.7" x2="632.1" y2="106" stroke="#3a78c0" stroke-width="0.6"/>
<polygon points="632.1,106 634.41,107.46 632.59,108.69" fill="#3a78c0"/>
<text x="641.2" y="123" font-size="4.6" font-weight="bold" fill="#3a78c0" stroke="#3a78c0" stroke-width="0.12">-COO-</text>
<text x="653.6" y="120.7" font-size="4" font-weight="bold" fill="#3a78c0" stroke="#3a78c0" stroke-width="0.12">=1636.76</text>
<polyline points="39.5,224.7 46.5,251.4 53.5,269.3 60.5,282.5 67.5,291.9 74.5,299.2 81.5,305 88.5,309.5 95.5,313.8 102.5,316.9 109.5,319.6 116.5,321.6 123.5,323.4 130.5,324.9 137.5,326 144.5,326.9 151.5,327.6 158.5,328.2 165.5,328.7 172.5,329.1 179.5,329.4 186.5,329.7 193.5,330 200.5,330.2 207.5,330.4" fill="none" stroke="#a8dcff" stroke-width="0.6" stroke-linejoin="round"/>
<polyline points="39.5,285.9 46.5,286 53.5,285.5 60.5,284.7 67.5,282.7 74.5,280.6 81.5,278.4 88.5,276.1 95.5,273.9 102.5,271.5 109.5,269.1 116.5,267.3 123.5,265.1 130.5,263.1 137.5,261.3 144.5,259.3 151.5,257.7 158.5,256 165.5,253.9 172.5,252.2 179.5,250.6 186.5,249 193.5,247.7 200.5,246.4 207.5,245.3" fill="none" stroke="#d890ff" stroke-width="0.6" stroke-linejoin="round"/>
<polyline points="39.5,299.2 46.5,298.5 53.5,297.3 60.5,296 67.5,294.8 74.5,292.9 81.5,291 88.5,289.3 95.5,287.8 102.5,286.1 109.5,284.3 116.5,283.2 123.5,281.9 130.5,280.4 137.5,278.6 144.5,277.3 151.5,276 158.5,274.3 165.5,272.7 172.5,271 179.5,269.3 186.5,267.3 193.5,265.5 200.5,263.6 207.5,261.6" fill="none" stroke="#c8f5a0" stroke-width="0.6" stroke-linejoin="round"/>
<polygon points="39.5,284.15 37.84,287.12 41.16,287.12" fill="#b030f0"/>
<rect x="38.2" y="297.9" width="2.6" height="2.6" fill="#90e838"/>
<circle cx="39.5" cy="224.7" r="1.45" fill="#40a8f5"/>
<polygon points="46.5,284.25 44.84,287.23 48.16,287.23" fill="#b030f0"/>
<rect x="45.2" y="297.2" width="2.6" height="2.6" fill="#90e838"/>
<circle cx="46.5" cy="251.4" r="1.45" fill="#40a8f5"/>
<polygon points="53.5,283.75 51.84,286.73 55.16,286.73" fill="#b030f0"/>
<rect x="52.2" y="296" width="2.6" height="2.6" fill="#90e838"/>
<circle cx="53.5" cy="269.3" r="1.45" fill="#40a8f5"/>
<polygon points="60.5,282.95 58.84,285.93 62.16,285.93" fill="#b030f0"/>
<rect x="59.2" y="294.7" width="2.6" height="2.6" fill="#90e838"/>
<circle cx="60.5" cy="282.5" r="1.45" fill="#40a8f5"/>
<polygon points="67.5,280.95 65.84,283.93 69.16,283.93" fill="#b030f0"/>
<rect x="66.2" y="293.5" width="2.6" height="2.6" fill="#90e838"/>
<circle cx="67.5" cy="291.9" r="1.45" fill="#40a8f5"/>
<polygon points="74.5,278.85 72.84,281.83 76.16,281.83" fill="#b030f0"/>
<rect x="73.2" y="291.6" width="2.6" height="2.6" fill="#90e838"/>
<circle cx="74.5" cy="299.2" r="1.45" fill="#40a8f5"/>
<polygon points="81.5,276.65 79.84,279.62 83.16,279.62" fill="#b030f0"/>
<rect x="80.2" y="289.7" width="2.6" height="2.6" fill="#90e838"/>
<circle cx="81.5" cy="305" r="1.45" fill="#40a8f5"/>
<polygon points="88.5,274.35 86.84,277.33 90.16,277.33" fill="#b030f0"/>
<rect x="87.2" y="288" width="2.6" height="2.6" fill="#90e838"/>
<circle cx="88.5" cy="309.5" r="1.45" fill="#40a8f5"/>
<polygon points="95.5,272.15 93.84,275.12 97.16,275.12" fill="#b030f0"/>
<rect x="94.2" y="286.5" width="2.6" height="2.6" fill="#90e838"/>
<circle cx="95.5" cy="313.8" r="1.45" fill="#40a8f5"/>
<polygon points="102.5,269.75 100.84,272.73 104.16,272.73" fill="#b030f0"/>
<rect x="101.2" y="284.8" width="2.6" height="2.6" fill="#90e838"/>
<circle cx="102.5" cy="316.9" r="1.45" fill="#40a8f5"/>
<polygon points="109.5,267.35 107.84,270.33 111.16,270.33" fill="#b030f0"/>
<rect x="108.2" y="283" width="2.6" height="2.6" fill="#90e838"/>
<circle cx="109.5" cy="319.6" r="1.45" fill="#40a8f5"/>
<polygon points="116.5,265.55 114.84,268.53 118.16,268.53" fill="#b030f0"/>
<rect x="115.2" y="281.9" width="2.6" height="2.6" fill="#90e838"/>
<circle cx="116.5" cy="321.6" r="1.45" fill="#40a8f5"/>
<polygon points="123.5,263.35 121.84,266.33 125.16,266.33" fill="#b030f0"/>
<rect x="122.2" y="280.6" width="2.6" height="2.6" fill="#90e838"/>
<circle cx="123.5" cy="323.4" r="1.45" fill="#40a8f5"/>
<polygon points="130.5,261.35 128.84,264.33 132.16,264.33" fill="#b030f0"/>
<rect x="129.2" y="279.1" width="2.6" height="2.6" fill="#90e838"/>
<circle cx="130.5" cy="324.9" r="1.45" fill="#40a8f5"/>
<polygon points="137.5,259.55 135.84,262.53 139.16,262.53" fill="#b030f0"/>
<rect x="136.2" y="277.3" width="2.6" height="2.6" fill="#90e838"/>
<circle cx="137.5" cy="326" r="1.45" fill="#40a8f5"/>
<polygon points="144.5,257.55 142.84,260.53 146.16,260.53" fill="#b030f0"/>
<rect x="143.2" y="276" width="2.6" height="2.6" fill="#90e838"/>
<circle cx="144.5" cy="326.9" r="1.45" fill="#40a8f5"/>
<polygon points="151.5,255.95 149.84,258.93 153.16,258.93" fill="#b030f0"/>
<rect x="150.2" y="274.7" width="2.6" height="2.6" fill="#90e838"/>
<circle cx="151.5" cy="327.6" r="1.45" fill="#40a8f5"/>
<polygon points="158.5,254.25 156.84,257.23 160.16,257.23" fill="#b030f0"/>
<rect x="157.2" y="273" width="2.6" height="2.6" fill="#90e838"/>
<circle cx="158.5" cy="328.2" r="1.45" fill="#40a8f5"/>
<polygon points="165.5,252.15 163.84,255.12 167.16,255.12" fill="#b030f0"/>
<rect x="164.2" y="271.4" width="2.6" height="2.6" fill="#90e838"/>
<circle cx="165.5" cy="328.7" r="1.45" fill="#40a8f5"/>
<polygon points="172.5,250.45 170.84,253.42 174.16,253.42" fill="#b030f0"/>
<rect x="171.2" y="269.7" width="2.6" height="2.6" fill="#90e838"/>
<circle cx="172.5" cy="329.1" r="1.45" fill="#40a8f5"/>
<polygon points="179.5,248.85 177.84,251.82 181.16,251.82" fill="#b030f0"/>
<rect x="178.2" y="268" width="2.6" height="2.6" fill="#90e838"/>
<circle cx="179.5" cy="329.4" r="1.45" fill="#40a8f5"/>
<polygon points="186.5,247.25 184.84,250.22 188.16,250.22" fill="#b030f0"/>
<rect x="185.2" y="266" width="2.6" height="2.6" fill="#90e838"/>
<circle cx="186.5" cy="329.7" r="1.45" fill="#40a8f5"/>
<polygon points="193.5,245.95 191.84,248.92 195.16,248.92" fill="#b030f0"/>
<rect x="192.2" y="264.2" width="2.6" height="2.6" fill="#90e838"/>
<circle cx="193.5" cy="330" r="1.45" fill="#40a8f5"/>
<polygon points="200.5,244.65 198.84,247.62 202.16,247.62" fill="#b030f0"/>
<rect x="199.2" y="262.3" width="2.6" height="2.6" fill="#90e838"/>
<circle cx="200.5" cy="330.2" r="1.45" fill="#40a8f5"/>
<polygon points="207.5,243.55 205.84,246.53 209.16,246.53" fill="#b030f0"/>
<rect x="206.2" y="260.3" width="2.6" height="2.6" fill="#90e838"/>
<circle cx="207.5" cy="330.4" r="1.45" fill="#40a8f5"/>
<line x1="39.5" y1="222.8" x2="207.5" y2="222.8" stroke="#aaa" stroke-width="1.2"/>
<line x1="39.5" y1="222.8" x2="39.5" y2="331.4" stroke="#777" stroke-width="1.1"/>
<line x1="39.5" y1="331.4" x2="207.5" y2="331.4" stroke="#666" stroke-width="1.1"/>
<line x1="207.5" y1="222.8" x2="207.5" y2="331.4" stroke="#a8d8fa" stroke-width="0.85"/>
<line x1="37.5" y1="331.4" x2="39.5" y2="331.4" stroke="#555" stroke-width="0.8"/>
<text x="36.3" y="333.2" font-size="4.6" text-anchor="end" fill="#333" stroke="#333" stroke-width="0.12">10<tspan font-size="3" dy="-2">1</tspan></text>
<line x1="37.5" y1="277.1" x2="39.5" y2="277.1" stroke="#555" stroke-width="0.8"/>
<text x="36.3" y="278.9" font-size="4.6" text-anchor="end" fill="#333" stroke="#333" stroke-width="0.12">10<tspan font-size="3" dy="-2">2</tspan></text>
<line x1="37.5" y1="222.8" x2="39.5" y2="222.8" stroke="#555" stroke-width="0.8"/>
<text x="36.3" y="224.6" font-size="4.6" text-anchor="end" fill="#333" stroke="#333" stroke-width="0.12">10<tspan font-size="3" dy="-2">3</tspan></text>
<line x1="39.5" y1="331.4" x2="39.5" y2="333.4" stroke="#555" stroke-width="0.8"/>
<text x="39.5" y="339.7" font-size="4.6" text-anchor="middle" fill="#333" stroke="#333" stroke-width="0.12">10<tspan font-size="3" dy="-2">-1</tspan></text>
<line x1="95.5" y1="331.4" x2="95.5" y2="333.4" stroke="#555" stroke-width="0.8"/>
<text x="95.5" y="339.7" font-size="4.6" text-anchor="middle" fill="#333" stroke="#333" stroke-width="0.12">10<tspan font-size="3" dy="-2">0</tspan></text>
<line x1="151.5" y1="331.4" x2="151.5" y2="333.4" stroke="#555" stroke-width="0.8"/>
<text x="151.5" y="339.7" font-size="4.6" text-anchor="middle" fill="#333" stroke="#333" stroke-width="0.12">10<tspan font-size="3" dy="-2">1</tspan></text>
<line x1="207.5" y1="331.4" x2="207.5" y2="333.4" stroke="#555" stroke-width="0.8"/>
<text x="207.5" y="339.7" font-size="4.6" text-anchor="middle" fill="#333" stroke="#333" stroke-width="0.12">10<tspan font-size="3" dy="-2">2</tspan></text>
<line x1="207.5" y1="331.4" x2="209.5" y2="331.4" stroke="#98d2fa" stroke-width="0.8"/>
<text x="210.5" y="333.1" font-size="4.8" fill="#98d2fa" stroke="#98d2fa" stroke-width="0.12">0</text>
<line x1="207.5" y1="304.25" x2="209.5" y2="304.25" stroke="#98d2fa" stroke-width="0.8"/>
<text x="210.5" y="305.95" font-size="4.8" fill="#98d2fa" stroke="#98d2fa" stroke-width="0.12">200</text>
<line x1="207.5" y1="277.1" x2="209.5" y2="277.1" stroke="#98d2fa" stroke-width="0.8"/>
<text x="210.5" y="278.8" font-size="4.8" fill="#98d2fa" stroke="#98d2fa" stroke-width="0.12">400</text>
<line x1="207.5" y1="249.95" x2="209.5" y2="249.95" stroke="#98d2fa" stroke-width="0.8"/>
<text x="210.5" y="251.65" font-size="4.8" fill="#98d2fa" stroke="#98d2fa" stroke-width="0.12">600</text>
<line x1="207.5" y1="222.8" x2="209.5" y2="222.8" stroke="#98d2fa" stroke-width="0.8"/>
<text x="210.5" y="224.5" font-size="4.8" fill="#98d2fa" stroke="#98d2fa" stroke-width="0.12">800</text>
<text x="26.8" y="277.1" font-size="5.6" text-anchor="middle" fill="#333" transform="rotate(-90 26.8 277.1)" stroke="#333" stroke-width="0.12">G&#39; and G&#39;&#39; (Pa)</text>
<text x="225.1" y="277.1" font-size="5.6" text-anchor="middle" fill="#98d2fa" transform="rotate(-90 225.1 277.1)" stroke="#98d2fa" stroke-width="0.12">Complex viscosity (Pa.s)</text>
<text x="123.5" y="347" font-size="5.6" text-anchor="middle" fill="#333" stroke="#333" stroke-width="0.12">Angular frequency (radis)</text>
<text x="1.2" y="237.8" font-size="13.8" font-weight="bold" fill="#000" stroke="#000" stroke-width="0.3">C</text>
<text x="145.5" y="319.2" font-size="12.9" font-weight="bold" fill="#000">Matrix</text>
<line x1="55" y1="230.4" x2="67" y2="230.4" stroke="#d890ff" stroke-width="0.6"/>
<polygon points="61.2,228.65 59.54,231.62 62.86,231.62" fill="#b030f0"/>
<text x="69" y="232.4" font-size="5.6" fill="#333" stroke="#333" stroke-width="0.12">G&#39;</text>
<line x1="91.8" y1="230.4" x2="103.3" y2="230.4" stroke="#c8f5a0" stroke-width="0.6"/>
<rect x="96.1" y="229.1" width="2.6" height="2.6" fill="#90e838"/>
<text x="105" y="232.4" font-size="5.6" fill="#333" stroke="#333" stroke-width="0.12">G&#39;&#39;</text>
<line x1="55" y1="237.4" x2="67" y2="237.4" stroke="#a8dcff" stroke-width="0.6"/>
<circle cx="61.2" cy="237.4" r="1.45" fill="#40a8f5"/>
<text x="69.4" y="239.4" font-size="5.6" fill="#333" stroke="#333" stroke-width="0.12">Complex viscosity</text>
<polyline points="268,235.2 274.91,254.1 281.82,268.6 288.73,280.1 295.63,289.4 302.54,296.9 309.45,303.1 316.36,308 323.27,312.1 330.18,315.5 337.08,318.4 343.99,320.6 350.9,322.3 357.81,323.7 364.72,324.8 371.62,325.7 378.53,326.4 385.44,327 392.35,327.5 399.26,327.9 406.17,328.2 413.08,328.4 419.98,328.6 426.89,328.7 433.8,328.8" fill="none" stroke="#a8dcff" stroke-width="0.6" stroke-linejoin="round"/>
<polyline points="268,274.5 274.91,272.9 281.82,270.8 288.73,268.9 295.63,267 302.54,264.9 309.45,263.3 316.36,261.2 323.27,259.3 330.18,257.3 337.08,255.6 343.99,253.7 350.9,252 357.81,250.4 364.72,249 371.62,247.3 378.53,245.7 385.44,244.4 392.35,242.9 399.26,241.3 406.17,239.8 413.08,238.3 419.98,236.8 426.89,235 433.8,233.7" fill="none" stroke="#d890ff" stroke-width="0.6" stroke-linejoin="round"/>
<polyline points="268,287.9 274.91,286.6 281.82,285.3 288.73,283.7 295.63,282.6 302.54,281.3 309.45,279.8 316.36,278.5 323.27,277.4 330.18,276.1 337.08,275 343.99,274 350.9,273.2 357.81,272.1 364.72,271 371.62,270 378.53,268.9 385.44,267.9 392.35,266.6 399.26,265.2 406.17,263.8 413.08,262 419.98,260.5 426.89,258.7 433.8,256.9" fill="none" stroke="#c8f5a0" stroke-width="0.6" stroke-linejoin="round"/>
<polygon points="268,272.75 266.34,275.73 269.66,275.73" fill="#b030f0"/>
<rect x="266.7" y="286.6" width="2.6" height="2.6" fill="#90e838"/>
<circle cx="268" cy="235.2" r="1.45" fill="#40a8f5"/>
<polygon points="274.91,271.15 273.25,274.12 276.57,274.12" fill="#b030f0"/>
<rect x="273.61" y="285.3" width="2.6" height="2.6" fill="#90e838"/>
<circle cx="274.91" cy="254.1" r="1.45" fill="#40a8f5"/>
<polygon points="281.82,269.05 280.15,272.03 283.48,272.03" fill="#b030f0"/>
<rect x="280.52" y="284" width="2.6" height="2.6" fill="#90e838"/>
<circle cx="281.82" cy="268.6" r="1.45" fill="#40a8f5"/>
<polygon points="288.73,267.15 287.06,270.12 290.39,270.12" fill="#b030f0"/>
<rect x="287.43" y="282.4" width="2.6" height="2.6" fill="#90e838"/>
<circle cx="288.73" cy="280.1" r="1.45" fill="#40a8f5"/>
<polygon points="295.63,265.25 293.97,268.23 297.3,268.23" fill="#b030f0"/>
<rect x="294.33" y="281.3" width="2.6" height="2.6" fill="#90e838"/>
<circle cx="295.63" cy="289.4" r="1.45" fill="#40a8f5"/>
<polygon points="302.54,263.15 300.88,266.12 304.2,266.12" fill="#b030f0"/>
<rect x="301.24" y="280" width="2.6" height="2.6" fill="#90e838"/>
<circle cx="302.54" cy="296.9" r="1.45" fill="#40a8f5"/>
<polygon points="309.45,261.55 307.79,264.53 311.11,264.53" fill="#b030f0"/>
<rect x="308.15" y="278.5" width="2.6" height="2.6" fill="#90e838"/>
<circle cx="309.45" cy="303.1" r="1.45" fill="#40a8f5"/>
<polygon points="316.36,259.45 314.7,262.43 318.02,262.43" fill="#b030f0"/>
<rect x="315.06" y="277.2" width="2.6" height="2.6" fill="#90e838"/>
<circle cx="316.36" cy="308" r="1.45" fill="#40a8f5"/>
<polygon points="323.27,257.55 321.6,260.53 324.93,260.53" fill="#b030f0"/>
<rect x="321.97" y="276.1" width="2.6" height="2.6" fill="#90e838"/>
<circle cx="323.27" cy="312.1" r="1.45" fill="#40a8f5"/>
<polygon points="330.18,255.55 328.51,258.53 331.84,258.53" fill="#b030f0"/>
<rect x="328.88" y="274.8" width="2.6" height="2.6" fill="#90e838"/>
<circle cx="330.18" cy="315.5" r="1.45" fill="#40a8f5"/>
<polygon points="337.08,253.85 335.42,256.82 338.75,256.82" fill="#b030f0"/>
<rect x="335.78" y="273.7" width="2.6" height="2.6" fill="#90e838"/>
<circle cx="337.08" cy="318.4" r="1.45" fill="#40a8f5"/>
<polygon points="343.99,251.95 342.33,254.92 345.65,254.92" fill="#b030f0"/>
<rect x="342.69" y="272.7" width="2.6" height="2.6" fill="#90e838"/>
<circle cx="343.99" cy="320.6" r="1.45" fill="#40a8f5"/>
<polygon points="350.9,250.25 349.24,253.22 352.56,253.22" fill="#b030f0"/>
<rect x="349.6" y="271.9" width="2.6" height="2.6" fill="#90e838"/>
<circle cx="350.9" cy="322.3" r="1.45" fill="#40a8f5"/>
<polygon points="357.81,248.65 356.15,251.62 359.47,251.62" fill="#b030f0"/>
<rect x="356.51" y="270.8" width="2.6" height="2.6" fill="#90e838"/>
<circle cx="357.81" cy="323.7" r="1.45" fill="#40a8f5"/>
<polygon points="364.72,247.25 363.05,250.22 366.38,250.22" fill="#b030f0"/>
<rect x="363.42" y="269.7" width="2.6" height="2.6" fill="#90e838"/>
<circle cx="364.72" cy="324.8" r="1.45" fill="#40a8f5"/>
<polygon points="371.62,245.55 369.96,248.53 373.29,248.53" fill="#b030f0"/>
<rect x="370.32" y="268.7" width="2.6" height="2.6" fill="#90e838"/>
<circle cx="371.62" cy="325.7" r="1.45" fill="#40a8f5"/>
<polygon points="378.53,243.95 376.87,246.92 380.2,246.92" fill="#b030f0"/>
<rect x="377.23" y="267.6" width="2.6" height="2.6" fill="#90e838"/>
<circle cx="378.53" cy="326.4" r="1.45" fill="#40a8f5"/>
<polygon points="385.44,242.65 383.78,245.62 387.1,245.62" fill="#b030f0"/>
<rect x="384.14" y="266.6" width="2.6" height="2.6" fill="#90e838"/>
<circle cx="385.44" cy="327" r="1.45" fill="#40a8f5"/>
<polygon points="392.35,241.15 390.69,244.12 394.01,244.12" fill="#b030f0"/>
<rect x="391.05" y="265.3" width="2.6" height="2.6" fill="#90e838"/>
<circle cx="392.35" cy="327.5" r="1.45" fill="#40a8f5"/>
<polygon points="399.26,239.55 397.6,242.53 400.92,242.53" fill="#b030f0"/>
<rect x="397.96" y="263.9" width="2.6" height="2.6" fill="#90e838"/>
<circle cx="399.26" cy="327.9" r="1.45" fill="#40a8f5"/>
<polygon points="406.17,238.05 404.5,241.03 407.83,241.03" fill="#b030f0"/>
<rect x="404.87" y="262.5" width="2.6" height="2.6" fill="#90e838"/>
<circle cx="406.17" cy="328.2" r="1.45" fill="#40a8f5"/>
<polygon points="413.08,236.55 411.41,239.53 414.74,239.53" fill="#b030f0"/>
<rect x="411.78" y="260.7" width="2.6" height="2.6" fill="#90e838"/>
<circle cx="413.08" cy="328.4" r="1.45" fill="#40a8f5"/>
<polygon points="419.98,235.05 418.32,238.03 421.65,238.03" fill="#b030f0"/>
<rect x="418.68" y="259.2" width="2.6" height="2.6" fill="#90e838"/>
<circle cx="419.98" cy="328.6" r="1.45" fill="#40a8f5"/>
<polygon points="426.89,233.25 425.23,236.22 428.55,236.22" fill="#b030f0"/>
<rect x="425.59" y="257.4" width="2.6" height="2.6" fill="#90e838"/>
<circle cx="426.89" cy="328.7" r="1.45" fill="#40a8f5"/>
<polygon points="433.8,231.95 432.14,234.92 435.46,234.92" fill="#b030f0"/>
<rect x="432.5" y="255.6" width="2.6" height="2.6" fill="#90e838"/>
<circle cx="433.8" cy="328.8" r="1.45" fill="#40a8f5"/>
<line x1="268" y1="222.8" x2="433.8" y2="222.8" stroke="#aaa" stroke-width="1.2"/>
<line x1="268" y1="222.8" x2="268" y2="329.2" stroke="#c4c4c4" stroke-width="1.6"/>
<line x1="268" y1="329.2" x2="433.8" y2="329.2" stroke="#666" stroke-width="1.1"/>
<line x1="433.8" y1="222.8" x2="433.8" y2="329.2" stroke="#a8d8fa" stroke-width="0.85"/>
<line x1="266" y1="329.2" x2="268" y2="329.2" stroke="#555" stroke-width="0.8"/>
<text x="264.8" y="331" font-size="4.6" text-anchor="end" fill="#333" stroke="#333" stroke-width="0.12">10<tspan font-size="3" dy="-2">0</tspan></text>
<line x1="266" y1="276" x2="268" y2="276" stroke="#555" stroke-width="0.8"/>
<text x="264.8" y="277.8" font-size="4.6" text-anchor="end" fill="#333" stroke="#333" stroke-width="0.12">10<tspan font-size="3" dy="-2">1</tspan></text>
<line x1="266" y1="222.8" x2="268" y2="222.8" stroke="#555" stroke-width="0.8"/>
<text x="264.8" y="224.6" font-size="4.6" text-anchor="end" fill="#333" stroke="#333" stroke-width="0.12">10<tspan font-size="3" dy="-2">2</tspan></text>
<line x1="268" y1="329.2" x2="268" y2="331.2" stroke="#555" stroke-width="0.8"/>
<text x="268" y="337.5" font-size="4.6" text-anchor="middle" fill="#333" stroke="#333" stroke-width="0.12">10<tspan font-size="3" dy="-2">-1</tspan></text>
<line x1="323.27" y1="329.2" x2="323.27" y2="331.2" stroke="#555" stroke-width="0.8"/>
<text x="323.27" y="337.5" font-size="4.6" text-anchor="middle" fill="#333" stroke="#333" stroke-width="0.12">10<tspan font-size="3" dy="-2">0</tspan></text>
<line x1="378.53" y1="329.2" x2="378.53" y2="331.2" stroke="#555" stroke-width="0.8"/>
<text x="378.53" y="337.5" font-size="4.6" text-anchor="middle" fill="#333" stroke="#333" stroke-width="0.12">10<tspan font-size="3" dy="-2">1</tspan></text>
<line x1="433.8" y1="329.2" x2="433.8" y2="331.2" stroke="#555" stroke-width="0.8"/>
<text x="433.8" y="337.5" font-size="4.6" text-anchor="middle" fill="#333" stroke="#333" stroke-width="0.12">10<tspan font-size="3" dy="-2">2</tspan></text>
<line x1="433.8" y1="329.2" x2="435.8" y2="329.2" stroke="#98d2fa" stroke-width="0.8"/>
<text x="436.8" y="330.9" font-size="4.8" fill="#98d2fa" stroke="#98d2fa" stroke-width="0.12">0</text>
<line x1="433.8" y1="302.6" x2="435.8" y2="302.6" stroke="#98d2fa" stroke-width="0.8"/>
<text x="436.8" y="304.3" font-size="4.8" fill="#98d2fa" stroke="#98d2fa" stroke-width="0.12">350</text>
<line x1="433.8" y1="276" x2="435.8" y2="276" stroke="#98d2fa" stroke-width="0.8"/>
<text x="436.8" y="277.7" font-size="4.8" fill="#98d2fa" stroke="#98d2fa" stroke-width="0.12">700</text>
<line x1="433.8" y1="249.4" x2="435.8" y2="249.4" stroke="#98d2fa" stroke-width="0.8"/>
<text x="436.8" y="251.1" font-size="4.8" fill="#98d2fa" stroke="#98d2fa" stroke-width="0.12">1050</text>
<line x1="433.8" y1="222.8" x2="435.8" y2="222.8" stroke="#98d2fa" stroke-width="0.8"/>
<text x="436.8" y="224.5" font-size="4.8" fill="#98d2fa" stroke="#98d2fa" stroke-width="0.12">1400</text>
<text x="255.3" y="276" font-size="5.6" text-anchor="middle" fill="#333" transform="rotate(-90 255.3 276)" stroke="#333" stroke-width="0.12">G&#39; and G&#39;&#39; (Pa)</text>
<text x="453.2" y="276" font-size="5.6" text-anchor="middle" fill="#98d2fa" transform="rotate(-90 453.2 276)" stroke="#98d2fa" stroke-width="0.12">Complex viscosity (Pa.s)</text>
<text x="350.9" y="344.8" font-size="5.6" text-anchor="middle" fill="#333" stroke="#333" stroke-width="0.12">Angular frequency (radis)</text>
<text x="230.7" y="237.8" font-size="13.8" font-weight="bold" fill="#000" stroke="#000" stroke-width="0.3">D</text>
<text x="368.5" y="320.7" font-size="12.9" font-weight="bold" fill="#000">ASFH-L</text>
<line x1="283.5" y1="230.4" x2="295.5" y2="230.4" stroke="#d890ff" stroke-width="0.6"/>
<polygon points="289.7,228.65 288.04,231.62 291.36,231.62" fill="#b030f0"/>
<text x="297.5" y="232.4" font-size="5.6" fill="#333" stroke="#333" stroke-width="0.12">G&#39;</text>
<line x1="320.3" y1="230.4" x2="331.8" y2="230.4" stroke="#c8f5a0" stroke-width="0.6"/>
<rect x="324.6" y="229.1" width="2.6" height="2.6" fill="#90e838"/>
<text x="333.5" y="232.4" font-size="5.6" fill="#333" stroke="#333" stroke-width="0.12">G&#39;&#39;</text>
<line x1="283.5" y1="237.4" x2="295.5" y2="237.4" stroke="#a8dcff" stroke-width="0.6"/>
<circle cx="289.7" cy="237.4" r="1.45" fill="#40a8f5"/>
<text x="297.9" y="239.4" font-size="5.6" fill="#333" stroke="#333" stroke-width="0.12">Complex viscosity</text>
<polyline points="497,225 503.91,252.6 510.82,270.9 517.73,284.6 524.63,294 531.54,301.5 538.45,306.9 545.36,311.4 552.27,315 559.17,317.8 566.08,320 572.99,321.9 579.9,323.4 586.81,324.6 593.72,325.6 600.62,326.4 607.53,327 614.44,327.5 621.35,327.9 628.26,328.3 635.17,328.6 642.07,328.8 648.98,329 655.89,329.1 662.8,329.2" fill="none" stroke="#a8dcff" stroke-width="0.6" stroke-linejoin="round"/>
<polyline points="497,269.8 503.91,269.9 510.82,269.8 517.73,269.4 524.63,267.8 531.54,266.4 538.45,265 545.36,263.1 552.27,261.5 559.17,260 566.08,258.2 572.99,256.7 579.9,255.3 586.81,253.5 593.72,251.4 600.62,249.3 607.53,247.7 614.44,246.2 621.35,244.6 628.26,243.2 635.17,241.6 642.07,240.1 648.98,238.6 655.89,237.1 662.8,235.7" fill="none" stroke="#d890ff" stroke-width="0.6" stroke-linejoin="round"/>
<polyline points="497,287.7 503.91,287.4 510.82,286.9 517.73,286 524.63,285.2 531.54,284 538.45,282.7 545.36,281.2 552.27,279.7 559.17,278.6 566.08,277.1 572.99,275.7 579.9,274.4 586.81,273 593.72,271.5 600.62,270 607.53,268.9 614.44,267.2 621.35,265.9 628.26,264 635.17,262.6 642.07,260.8 648.98,258.9 655.89,257.2 662.8,255.1" fill="none" stroke="#c8f5a0" stroke-width="0.6" stroke-linejoin="round"/>
<polygon points="497,268.05 495.34,271.03 498.66,271.03" fill="#b030f0"/>
<rect x="495.7" y="286.4" width="2.6" height="2.6" fill="#90e838"/>
<circle cx="497" cy="225" r="1.45" fill="#40a8f5"/>
<polygon points="503.91,268.15 502.25,271.12 505.57,271.12" fill="#b030f0"/>
<rect x="502.61" y="286.1" width="2.6" height="2.6" fill="#90e838"/>
<circle cx="503.91" cy="252.6" r="1.45" fill="#40a8f5"/>
<polygon points="510.82,268.05 509.15,271.03 512.48,271.03" fill="#b030f0"/>
<rect x="509.52" y="285.6" width="2.6" height="2.6" fill="#90e838"/>
<circle cx="510.82" cy="270.9" r="1.45" fill="#40a8f5"/>
<polygon points="517.73,267.65 516.06,270.62 519.39,270.62" fill="#b030f0"/>
<rect x="516.43" y="284.7" width="2.6" height="2.6" fill="#90e838"/>
<circle cx="517.73" cy="284.6" r="1.45" fill="#40a8f5"/>
<polygon points="524.63,266.05 522.97,269.03 526.3,269.03" fill="#b030f0"/>
<rect x="523.33" y="283.9" width="2.6" height="2.6" fill="#90e838"/>
<circle cx="524.63" cy="294" r="1.45" fill="#40a8f5"/>
<polygon points="531.54,264.65 529.88,267.62 533.2,267.62" fill="#b030f0"/>
<rect x="530.24" y="282.7" width="2.6" height="2.6" fill="#90e838"/>
<circle cx="531.54" cy="301.5" r="1.45" fill="#40a8f5"/>
<polygon points="538.45,263.25 536.79,266.23 540.11,266.23" fill="#b030f0"/>
<rect x="537.15" y="281.4" width="2.6" height="2.6" fill="#90e838"/>
<circle cx="538.45" cy="306.9" r="1.45" fill="#40a8f5"/>
<polygon points="545.36,261.35 543.7,264.33 547.02,264.33" fill="#b030f0"/>
<rect x="544.06" y="279.9" width="2.6" height="2.6" fill="#90e838"/>
<circle cx="545.36" cy="311.4" r="1.45" fill="#40a8f5"/>
<polygon points="552.27,259.75 550.6,262.73 553.93,262.73" fill="#b030f0"/>
<rect x="550.97" y="278.4" width="2.6" height="2.6" fill="#90e838"/>
<circle cx="552.27" cy="315" r="1.45" fill="#40a8f5"/>
<polygon points="559.17,258.25 557.51,261.23 560.84,261.23" fill="#b030f0"/>
<rect x="557.88" y="277.3" width="2.6" height="2.6" fill="#90e838"/>
<circle cx="559.17" cy="317.8" r="1.45" fill="#40a8f5"/>
<polygon points="566.08,256.45 564.42,259.43 567.75,259.43" fill="#b030f0"/>
<rect x="564.78" y="275.8" width="2.6" height="2.6" fill="#90e838"/>
<circle cx="566.08" cy="320" r="1.45" fill="#40a8f5"/>
<polygon points="572.99,254.95 571.33,257.93 574.65,257.93" fill="#b030f0"/>
<rect x="571.69" y="274.4" width="2.6" height="2.6" fill="#90e838"/>
<circle cx="572.99" cy="321.9" r="1.45" fill="#40a8f5"/>
<polygon points="579.9,253.55 578.24,256.53 581.56,256.53" fill="#b030f0"/>
<rect x="578.6" y="273.1" width="2.6" height="2.6" fill="#90e838"/>
<circle cx="579.9" cy="323.4" r="1.45" fill="#40a8f5"/>
<polygon points="586.81,251.75 585.15,254.72 588.47,254.72" fill="#b030f0"/>
<rect x="585.51" y="271.7" width="2.6" height="2.6" fill="#90e838"/>
<circle cx="586.81" cy="324.6" r="1.45" fill="#40a8f5"/>
<polygon points="593.72,249.65 592.05,252.62 595.38,252.62" fill="#b030f0"/>
<rect x="592.42" y="270.2" width="2.6" height="2.6" fill="#90e838"/>
<circle cx="593.72" cy="325.6" r="1.45" fill="#40a8f5"/>
<polygon points="600.62,247.55 598.96,250.53 602.29,250.53" fill="#b030f0"/>
<rect x="599.33" y="268.7" width="2.6" height="2.6" fill="#90e838"/>
<circle cx="600.62" cy="326.4" r="1.45" fill="#40a8f5"/>
<polygon points="607.53,245.95 605.87,248.92 609.2,248.92" fill="#b030f0"/>
<rect x="606.23" y="267.6" width="2.6" height="2.6" fill="#90e838"/>
<circle cx="607.53" cy="327" r="1.45" fill="#40a8f5"/>
<polygon points="614.44,244.45 612.78,247.42 616.1,247.42" fill="#b030f0"/>
<rect x="613.14" y="265.9" width="2.6" height="2.6" fill="#90e838"/>
<circle cx="614.44" cy="327.5" r="1.45" fill="#40a8f5"/>
<polygon points="621.35,242.85 619.69,245.82 623.01,245.82" fill="#b030f0"/>
<rect x="620.05" y="264.6" width="2.6" height="2.6" fill="#90e838"/>
<circle cx="621.35" cy="327.9" r="1.45" fill="#40a8f5"/>
<polygon points="628.26,241.45 626.6,244.42 629.92,244.42" fill="#b030f0"/>
<rect x="626.96" y="262.7" width="2.6" height="2.6" fill="#90e838"/>
<circle cx="628.26" cy="328.3" r="1.45" fill="#40a8f5"/>
<polygon points="635.17,239.85 633.5,242.82 636.83,242.82" fill="#b030f0"/>
<rect x="633.87" y="261.3" width="2.6" height="2.6" fill="#90e838"/>
<circle cx="635.17" cy="328.6" r="1.45" fill="#40a8f5"/>
<polygon points="642.07,238.35 640.41,241.32 643.74,241.32" fill="#b030f0"/>
<rect x="640.77" y="259.5" width="2.6" height="2.6" fill="#90e838"/>
<circle cx="642.07" cy="328.8" r="1.45" fill="#40a8f5"/>
<polygon points="648.98,236.85 647.32,239.82 650.65,239.82" fill="#b030f0"/>
<rect x="647.68" y="257.6" width="2.6" height="2.6" fill="#90e838"/>
<circle cx="648.98" cy="329" r="1.45" fill="#40a8f5"/>
<polygon points="655.89,235.35 654.23,238.32 657.55,238.32" fill="#b030f0"/>
<rect x="654.59" y="255.9" width="2.6" height="2.6" fill="#90e838"/>
<circle cx="655.89" cy="329.1" r="1.45" fill="#40a8f5"/>
<polygon points="662.8,233.95 661.14,236.92 664.46,236.92" fill="#b030f0"/>
<rect x="661.5" y="253.8" width="2.6" height="2.6" fill="#90e838"/>
<circle cx="662.8" cy="329.2" r="1.45" fill="#40a8f5"/>
<line x1="497" y1="222.8" x2="662.8" y2="222.8" stroke="#aaa" stroke-width="1.2"/>
<line x1="497" y1="222.8" x2="497" y2="329.5" stroke="#c4c4c4" stroke-width="1.6"/>
<line x1="497" y1="329.5" x2="662.8" y2="329.5" stroke="#666" stroke-width="1.1"/>
<line x1="662.8" y1="222.8" x2="662.8" y2="329.5" stroke="#a8d8fa" stroke-width="0.85"/>
<line x1="495" y1="329.5" x2="497" y2="329.5" stroke="#555" stroke-width="0.8"/>
<text x="493.8" y="331.3" font-size="4.6" text-anchor="end" fill="#333" stroke="#333" stroke-width="0.12">10<tspan font-size="3" dy="-2">0</tspan></text>
<line x1="495" y1="276.15" x2="497" y2="276.15" stroke="#555" stroke-width="0.8"/>
<text x="493.8" y="277.95" font-size="4.6" text-anchor="end" fill="#333" stroke="#333" stroke-width="0.12">10<tspan font-size="3" dy="-2">1</tspan></text>
<line x1="495" y1="222.8" x2="497" y2="222.8" stroke="#555" stroke-width="0.8"/>
<text x="493.8" y="224.6" font-size="4.6" text-anchor="end" fill="#333" stroke="#333" stroke-width="0.12">10<tspan font-size="3" dy="-2">2</tspan></text>
<line x1="497" y1="329.5" x2="497" y2="331.5" stroke="#555" stroke-width="0.8"/>
<text x="497" y="337.8" font-size="4.6" text-anchor="middle" fill="#333" stroke="#333" stroke-width="0.12">10<tspan font-size="3" dy="-2">-1</tspan></text>
<line x1="552.27" y1="329.5" x2="552.27" y2="331.5" stroke="#555" stroke-width="0.8"/>
<text x="552.27" y="337.8" font-size="4.6" text-anchor="middle" fill="#333" stroke="#333" stroke-width="0.12">10<tspan font-size="3" dy="-2">0</tspan></text>
<line x1="607.53" y1="329.5" x2="607.53" y2="331.5" stroke="#555" stroke-width="0.8"/>
<text x="607.53" y="337.8" font-size="4.6" text-anchor="middle" fill="#333" stroke="#333" stroke-width="0.12">10<tspan font-size="3" dy="-2">1</tspan></text>
<line x1="662.8" y1="329.5" x2="662.8" y2="331.5" stroke="#555" stroke-width="0.8"/>
<text x="662.8" y="337.8" font-size="4.6" text-anchor="middle" fill="#333" stroke="#333" stroke-width="0.12">10<tspan font-size="3" dy="-2">2</tspan></text>
<line x1="662.8" y1="329.5" x2="664.8" y2="329.5" stroke="#98d2fa" stroke-width="0.8"/>
<text x="665.8" y="331.2" font-size="4.8" fill="#98d2fa" stroke="#98d2fa" stroke-width="0.12">0</text>
<line x1="662.8" y1="308.16" x2="664.8" y2="308.16" stroke="#98d2fa" stroke-width="0.8"/>
<text x="665.8" y="309.86" font-size="4.8" fill="#98d2fa" stroke="#98d2fa" stroke-width="0.12">300</text>
<line x1="662.8" y1="286.82" x2="664.8" y2="286.82" stroke="#98d2fa" stroke-width="0.8"/>
<text x="665.8" y="288.52" font-size="4.8" fill="#98d2fa" stroke="#98d2fa" stroke-width="0.12">600</text>
<line x1="662.8" y1="265.48" x2="664.8" y2="265.48" stroke="#98d2fa" stroke-width="0.8"/>
<text x="665.8" y="267.18" font-size="4.8" fill="#98d2fa" stroke="#98d2fa" stroke-width="0.12">900</text>
<line x1="662.8" y1="244.14" x2="664.8" y2="244.14" stroke="#98d2fa" stroke-width="0.8"/>
<text x="665.8" y="245.84" font-size="4.8" fill="#98d2fa" stroke="#98d2fa" stroke-width="0.12">1200</text>
<line x1="662.8" y1="222.8" x2="664.8" y2="222.8" stroke="#98d2fa" stroke-width="0.8"/>
<text x="665.8" y="224.5" font-size="4.8" fill="#98d2fa" stroke="#98d2fa" stroke-width="0.12">1500</text>
<text x="484.3" y="276.15" font-size="5.6" text-anchor="middle" fill="#333" transform="rotate(-90 484.3 276.15)" stroke="#333" stroke-width="0.12">G&#39; and G&#39;&#39; (Pa)</text>
<text x="681.8" y="276.15" font-size="5.6" text-anchor="middle" fill="#98d2fa" transform="rotate(-90 681.8 276.15)" stroke="#98d2fa" stroke-width="0.12">Complex viscosity (Pa.s)</text>
<text x="579.9" y="345.1" font-size="5.6" text-anchor="middle" fill="#333" stroke="#333" stroke-width="0.12">Angular frequency (radis)</text>
<text x="459.2" y="237.8" font-size="13.8" font-weight="bold" fill="#000" stroke="#000" stroke-width="0.3">E</text>
<text x="603.6" y="321" font-size="12.9" font-weight="bold" fill="#000">ASFH-H</text>
<line x1="512.5" y1="230.4" x2="524.5" y2="230.4" stroke="#d890ff" stroke-width="0.6"/>
<polygon points="518.7,228.65 517.04,231.62 520.36,231.62" fill="#b030f0"/>
<text x="526.5" y="232.4" font-size="5.6" fill="#333" stroke="#333" stroke-width="0.12">G&#39;</text>
<line x1="549.3" y1="230.4" x2="560.8" y2="230.4" stroke="#c8f5a0" stroke-width="0.6"/>
<rect x="553.6" y="229.1" width="2.6" height="2.6" fill="#90e838"/>
<text x="562.5" y="232.4" font-size="5.6" fill="#333" stroke="#333" stroke-width="0.12">G&#39;&#39;</text>
<line x1="512.5" y1="237.4" x2="524.5" y2="237.4" stroke="#a8dcff" stroke-width="0.6"/>
<circle cx="518.7" cy="237.4" r="1.45" fill="#40a8f5"/>
<text x="526.9" y="239.4" font-size="5.6" fill="#333" stroke="#333" stroke-width="0.12">Complex viscosity</text>
<polyline points="51.1,378 52.1,378.19 53.1,378.36 54.1,378.54 55.1,378.73 56.1,378.94 57.1,379.2 58.1,379.54 59.1,379.97 60.1,380.46 61.23,381.02 63.53,382.11 65.83,383.5 68.13,385.22 70.43,386.6 72.73,388.18 75.03,389.89 78.34,392.56 81.67,395.46 85.02,398.48 88.4,401.49 91.91,404.79 96.33,409.42 100.79,413.94 105.24,418.53 109.7,423.35 114.16,427.65 118.63,431.87 123.09,435.91 127.56,439.48 132.04,442.73 136.51,445.64 140.99,448.62 145.47,451.75 149.96,454.71 154.45,457.55 158.94,460.18 163.43,462.1 167.93,463.35 172.43,464.22 174.83,464.69 177.25,465.06 179.7,465.35 182.17,465.57 184.67,465.76 187.18,465.96 189.72,466.18 192.28,466.4 194.86,466.6 197.06,466.76 198.26,466.83 199.43,466.9 200.59,466.97 201.71,467.03 202.82,467.09 203.9,467.15 204.97,467.2 206.01,467.26" fill="none" stroke="#a8dcff" stroke-width="0.5" stroke-linejoin="round"/>
<polyline points="51.1,371.5 52.1,371.54 53.1,371.58 54.1,371.62 55.1,371.66 56.1,371.69 57.1,371.74 58.1,371.79 59.1,371.84 60.1,371.91 61.23,372.01 63.53,372.31 65.83,372.67 68.13,373.12 70.43,373.66 72.73,374.2 75.03,374.67 78.34,375.32 81.67,376.02 85.02,376.77 88.4,377.62 91.91,378.69 96.33,380.4 100.79,382.07 105.24,383.81 109.7,386.06 114.16,388.2 118.63,390.41 123.09,392.67 127.56,394.91 132.04,397.18 136.51,399.77 140.99,402.49 145.47,405.38 149.96,408.78 154.45,412.53 158.94,415.92 163.43,419.08 167.93,421.61 172.43,423.3 174.83,424.19 177.25,425.02 179.7,425.73 182.17,426.27 184.67,426.79 187.18,427.39 189.72,428.21 192.28,428.9 194.86,429.51 197.06,430.12 198.26,430.49 199.43,430.86 200.59,431.19 201.71,431.48 202.82,431.74 203.9,431.98 204.97,432.22 206.01,432.44" fill="none" stroke="#d890ff" stroke-width="0.5" stroke-linejoin="round"/>
<polyline points="51.1,400.6 52.1,400.75 53.1,400.9 54.1,401.05 55.1,401.2 56.1,401.35 57.1,401.5 58.1,401.65 59.1,401.8 60.1,401.96 61.23,402.14 63.53,402.49 65.83,402.86 68.13,403.27 70.43,403.77 72.73,404.39 75.03,404.85 78.34,405.4 81.67,406.05 85.02,406.81 88.4,407.51 91.91,408.15 96.33,409.16 100.79,410.3 105.24,411.44 109.7,412.59 114.16,413.68 118.63,415.13 123.09,416.21 127.56,417.39 132.04,418.84 136.51,420.04 140.99,421.31 145.47,422.92 149.96,424.76 154.45,426.82 158.94,428.94 163.43,430.9 167.93,432.5 172.43,433.68 174.83,434.29 177.25,434.65 179.7,434.97 182.17,435.32 184.67,435.66 187.18,435.98 189.72,436.28 192.28,436.57 194.86,436.85 197.06,437.1 198.26,437.23 199.43,437.37 200.59,437.5 201.71,437.63 202.82,437.76 203.9,437.88 204.97,438 206.01,438.12" fill="none" stroke="#c8f5a0" stroke-width="0.5" stroke-linejoin="round"/>
<polygon points="51.1,370 49.68,372.55 52.52,372.55" fill="#b030f0"/>
<rect x="50" y="399.5" width="2.2" height="2.2" fill="#90e838"/>
<circle cx="51.1" cy="378" r="1.2" fill="#40a8f5"/>
<polygon points="52.1,370.04 50.68,372.59 53.52,372.59" fill="#b030f0"/>
<rect x="51" y="399.65" width="2.2" height="2.2" fill="#90e838"/>
<circle cx="52.1" cy="378.19" r="1.2" fill="#40a8f5"/>
<polygon points="53.1,370.08 51.68,372.63 54.52,372.63" fill="#b030f0"/>
<rect x="52" y="399.8" width="2.2" height="2.2" fill="#90e838"/>
<circle cx="53.1" cy="378.36" r="1.2" fill="#40a8f5"/>
<polygon points="54.1,370.12 52.68,372.67 55.52,372.67" fill="#b030f0"/>
<rect x="53" y="399.95" width="2.2" height="2.2" fill="#90e838"/>
<circle cx="54.1" cy="378.54" r="1.2" fill="#40a8f5"/>
<polygon points="55.1,370.16 53.68,372.71 56.52,372.71" fill="#b030f0"/>
<rect x="54" y="400.1" width="2.2" height="2.2" fill="#90e838"/>
<circle cx="55.1" cy="378.73" r="1.2" fill="#40a8f5"/>
<polygon points="56.1,370.19 54.68,372.74 57.52,372.74" fill="#b030f0"/>
<rect x="55" y="400.25" width="2.2" height="2.2" fill="#90e838"/>
<circle cx="56.1" cy="378.94" r="1.2" fill="#40a8f5"/>
<polygon points="57.1,370.24 55.68,372.79 58.52,372.79" fill="#b030f0"/>
<rect x="56" y="400.4" width="2.2" height="2.2" fill="#90e838"/>
<circle cx="57.1" cy="379.2" r="1.2" fill="#40a8f5"/>
<polygon points="58.1,370.29 56.68,372.84 59.52,372.84" fill="#b030f0"/>
<rect x="57" y="400.55" width="2.2" height="2.2" fill="#90e838"/>
<circle cx="58.1" cy="379.54" r="1.2" fill="#40a8f5"/>
<polygon points="59.1,370.34 57.68,372.89 60.52,372.89" fill="#b030f0"/>
<rect x="58" y="400.7" width="2.2" height="2.2" fill="#90e838"/>
<circle cx="59.1" cy="379.97" r="1.2" fill="#40a8f5"/>
<polygon points="60.1,370.41 58.68,372.96 61.52,372.96" fill="#b030f0"/>
<rect x="59" y="400.86" width="2.2" height="2.2" fill="#90e838"/>
<circle cx="60.1" cy="380.46" r="1.2" fill="#40a8f5"/>
<polygon points="61.23,370.51 59.81,373.06 62.66,373.06" fill="#b030f0"/>
<rect x="60.13" y="401.04" width="2.2" height="2.2" fill="#90e838"/>
<circle cx="61.23" cy="381.02" r="1.2" fill="#40a8f5"/>
<polygon points="63.53,370.81 62.11,373.36 64.95,373.36" fill="#b030f0"/>
<rect x="62.43" y="401.39" width="2.2" height="2.2" fill="#90e838"/>
<circle cx="63.53" cy="382.11" r="1.2" fill="#40a8f5"/>
<polygon points="65.83,371.17 64.41,373.72 67.25,373.72" fill="#b030f0"/>
<rect x="64.73" y="401.76" width="2.2" height="2.2" fill="#90e838"/>
<circle cx="65.83" cy="383.5" r="1.2" fill="#40a8f5"/>
<polygon points="68.13,371.62 66.7,374.17 69.55,374.17" fill="#b030f0"/>
<rect x="67.03" y="402.17" width="2.2" height="2.2" fill="#90e838"/>
<circle cx="68.13" cy="385.22" r="1.2" fill="#40a8f5"/>
<polygon points="70.43,372.16 69,374.71 71.85,374.71" fill="#b030f0"/>
<rect x="69.33" y="402.67" width="2.2" height="2.2" fill="#90e838"/>
<circle cx="70.43" cy="386.6" r="1.2" fill="#40a8f5"/>
<polygon points="72.73,372.7 71.3,375.25 74.15,375.25" fill="#b030f0"/>
<rect x="71.63" y="403.29" width="2.2" height="2.2" fill="#90e838"/>
<circle cx="72.73" cy="388.18" r="1.2" fill="#40a8f5"/>
<polygon points="75.03,373.17 73.6,375.72 76.45,375.72" fill="#b030f0"/>
<rect x="73.93" y="403.75" width="2.2" height="2.2" fill="#90e838"/>
<circle cx="75.03" cy="389.89" r="1.2" fill="#40a8f5"/>
<polygon points="78.34,373.82 76.91,376.37 79.76,376.37" fill="#b030f0"/>
<rect x="77.24" y="404.3" width="2.2" height="2.2" fill="#90e838"/>
<circle cx="78.34" cy="392.56" r="1.2" fill="#40a8f5"/>
<polygon points="81.67,374.52 80.24,377.07 83.09,377.07" fill="#b030f0"/>
<rect x="80.57" y="404.95" width="2.2" height="2.2" fill="#90e838"/>
<circle cx="81.67" cy="395.46" r="1.2" fill="#40a8f5"/>
<polygon points="85.02,375.27 83.6,377.82 86.45,377.82" fill="#b030f0"/>
<rect x="83.92" y="405.71" width="2.2" height="2.2" fill="#90e838"/>
<circle cx="85.02" cy="398.48" r="1.2" fill="#40a8f5"/>
<polygon points="88.4,376.12 86.98,378.67 89.83,378.67" fill="#b030f0"/>
<rect x="87.3" y="406.41" width="2.2" height="2.2" fill="#90e838"/>
<circle cx="88.4" cy="401.49" r="1.2" fill="#40a8f5"/>
<polygon points="91.91,377.19 90.48,379.74 93.33,379.74" fill="#b030f0"/>
<rect x="90.81" y="407.05" width="2.2" height="2.2" fill="#90e838"/>
<circle cx="91.91" cy="404.79" r="1.2" fill="#40a8f5"/>
<polygon points="96.33,378.9 94.91,381.45 97.76,381.45" fill="#b030f0"/>
<rect x="95.23" y="408.06" width="2.2" height="2.2" fill="#90e838"/>
<circle cx="96.33" cy="409.42" r="1.2" fill="#40a8f5"/>
<polygon points="100.79,380.57 99.36,383.12 102.21,383.12" fill="#b030f0"/>
<rect x="99.69" y="409.2" width="2.2" height="2.2" fill="#90e838"/>
<circle cx="100.79" cy="413.94" r="1.2" fill="#40a8f5"/>
<polygon points="105.24,382.31 103.82,384.86 106.67,384.86" fill="#b030f0"/>
<rect x="104.14" y="410.34" width="2.2" height="2.2" fill="#90e838"/>
<circle cx="105.24" cy="418.53" r="1.2" fill="#40a8f5"/>
<polygon points="109.7,384.56 108.28,387.11 111.13,387.11" fill="#b030f0"/>
<rect x="108.6" y="411.49" width="2.2" height="2.2" fill="#90e838"/>
<circle cx="109.7" cy="423.35" r="1.2" fill="#40a8f5"/>
<polygon points="114.16,386.7 112.74,389.25 115.59,389.25" fill="#b030f0"/>
<rect x="113.06" y="412.58" width="2.2" height="2.2" fill="#90e838"/>
<circle cx="114.16" cy="427.65" r="1.2" fill="#40a8f5"/>
<polygon points="118.63,388.91 117.2,391.46 120.05,391.46" fill="#b030f0"/>
<rect x="117.53" y="414.03" width="2.2" height="2.2" fill="#90e838"/>
<circle cx="118.63" cy="431.87" r="1.2" fill="#40a8f5"/>
<polygon points="123.09,391.17 121.67,393.72 124.52,393.72" fill="#b030f0"/>
<rect x="121.99" y="415.11" width="2.2" height="2.2" fill="#90e838"/>
<circle cx="123.09" cy="435.91" r="1.2" fill="#40a8f5"/>
<polygon points="127.56,393.41 126.14,395.96 128.99,395.96" fill="#b030f0"/>
<rect x="126.46" y="416.29" width="2.2" height="2.2" fill="#90e838"/>
<circle cx="127.56" cy="439.48" r="1.2" fill="#40a8f5"/>
<polygon points="132.04,395.68 130.61,398.23 133.46,398.23" fill="#b030f0"/>
<rect x="130.94" y="417.74" width="2.2" height="2.2" fill="#90e838"/>
<circle cx="132.04" cy="442.73" r="1.2" fill="#40a8f5"/>
<polygon points="136.51,398.27 135.09,400.82 137.94,400.82" fill="#b030f0"/>
<rect x="135.41" y="418.94" width="2.2" height="2.2" fill="#90e838"/>
<circle cx="136.51" cy="445.64" r="1.2" fill="#40a8f5"/>
<polygon points="140.99,400.99 139.57,403.54 142.42,403.54" fill="#b030f0"/>
<rect x="139.89" y="420.21" width="2.2" height="2.2" fill="#90e838"/>
<circle cx="140.99" cy="448.62" r="1.2" fill="#40a8f5"/>
<polygon points="145.47,403.88 144.05,406.43 146.9,406.43" fill="#b030f0"/>
<rect x="144.37" y="421.82" width="2.2" height="2.2" fill="#90e838"/>
<circle cx="145.47" cy="451.75" r="1.2" fill="#40a8f5"/>
<polygon points="149.96,407.28 148.53,409.83 151.38,409.83" fill="#b030f0"/>
<rect x="148.86" y="423.66" width="2.2" height="2.2" fill="#90e838"/>
<circle cx="149.96" cy="454.71" r="1.2" fill="#40a8f5"/>
<polygon points="154.45,411.03 153.02,413.58 155.87,413.58" fill="#b030f0"/>
<rect x="153.35" y="425.72" width="2.2" height="2.2" fill="#90e838"/>
<circle cx="154.45" cy="457.55" r="1.2" fill="#40a8f5"/>
<polygon points="158.94,414.42 157.51,416.97 160.36,416.97" fill="#b030f0"/>
<rect x="157.84" y="427.84" width="2.2" height="2.2" fill="#90e838"/>
<circle cx="158.94" cy="460.18" r="1.2" fill="#40a8f5"/>
<polygon points="163.43,417.58 162,420.13 164.85,420.13" fill="#b030f0"/>
<rect x="162.33" y="429.8" width="2.2" height="2.2" fill="#90e838"/>
<circle cx="163.43" cy="462.1" r="1.2" fill="#40a8f5"/>
<polygon points="167.93,420.11 166.5,422.66 169.35,422.66" fill="#b030f0"/>
<rect x="166.83" y="431.4" width="2.2" height="2.2" fill="#90e838"/>
<circle cx="167.93" cy="463.35" r="1.2" fill="#40a8f5"/>
<polygon points="172.43,421.8 171,424.35 173.85,424.35" fill="#b030f0"/>
<rect x="171.33" y="432.58" width="2.2" height="2.2" fill="#90e838"/>
<circle cx="172.43" cy="464.22" r="1.2" fill="#40a8f5"/>
<polygon points="174.83,422.69 173.4,425.24 176.25,425.24" fill="#b030f0"/>
<rect x="173.73" y="433.19" width="2.2" height="2.2" fill="#90e838"/>
<circle cx="174.83" cy="464.69" r="1.2" fill="#40a8f5"/>
<polygon points="177.25,423.52 175.83,426.07 178.68,426.07" fill="#b030f0"/>
<rect x="176.15" y="433.55" width="2.2" height="2.2" fill="#90e838"/>
<circle cx="177.25" cy="465.06" r="1.2" fill="#40a8f5"/>
<polygon points="179.7,424.23 178.28,426.78 181.13,426.78" fill="#b030f0"/>
<rect x="178.6" y="433.87" width="2.2" height="2.2" fill="#90e838"/>
<circle cx="179.7" cy="465.35" r="1.2" fill="#40a8f5"/>
<polygon points="182.17,424.77 180.75,427.32 183.6,427.32" fill="#b030f0"/>
<rect x="181.07" y="434.22" width="2.2" height="2.2" fill="#90e838"/>
<circle cx="182.17" cy="465.57" r="1.2" fill="#40a8f5"/>
<polygon points="184.67,425.29 183.24,427.84 186.09,427.84" fill="#b030f0"/>
<rect x="183.57" y="434.56" width="2.2" height="2.2" fill="#90e838"/>
<circle cx="184.67" cy="465.76" r="1.2" fill="#40a8f5"/>
<polygon points="187.18,425.89 185.76,428.44 188.61,428.44" fill="#b030f0"/>
<rect x="186.08" y="434.88" width="2.2" height="2.2" fill="#90e838"/>
<circle cx="187.18" cy="465.96" r="1.2" fill="#40a8f5"/>
<polygon points="189.72,426.71 188.29,429.26 191.14,429.26" fill="#b030f0"/>
<rect x="188.62" y="435.18" width="2.2" height="2.2" fill="#90e838"/>
<circle cx="189.72" cy="466.18" r="1.2" fill="#40a8f5"/>
<polygon points="192.28,427.4 190.85,429.95 193.7,429.95" fill="#b030f0"/>
<rect x="191.18" y="435.47" width="2.2" height="2.2" fill="#90e838"/>
<circle cx="192.28" cy="466.4" r="1.2" fill="#40a8f5"/>
<polygon points="194.86,428.01 193.44,430.56 196.29,430.56" fill="#b030f0"/>
<rect x="193.76" y="435.75" width="2.2" height="2.2" fill="#90e838"/>
<circle cx="194.86" cy="466.6" r="1.2" fill="#40a8f5"/>
<polygon points="197.06,428.62 195.64,431.17 198.49,431.17" fill="#b030f0"/>
<rect x="195.96" y="436" width="2.2" height="2.2" fill="#90e838"/>
<circle cx="197.06" cy="466.76" r="1.2" fill="#40a8f5"/>
<polygon points="198.26,428.99 196.83,431.54 199.68,431.54" fill="#b030f0"/>
<rect x="197.16" y="436.13" width="2.2" height="2.2" fill="#90e838"/>
<circle cx="198.26" cy="466.83" r="1.2" fill="#40a8f5"/>
<polygon points="199.43,429.36 198.01,431.91 200.86,431.91" fill="#b030f0"/>
<rect x="198.33" y="436.27" width="2.2" height="2.2" fill="#90e838"/>
<circle cx="199.43" cy="466.9" r="1.2" fill="#40a8f5"/>
<polygon points="200.59,429.69 199.16,432.24 202.01,432.24" fill="#b030f0"/>
<rect x="199.49" y="436.4" width="2.2" height="2.2" fill="#90e838"/>
<circle cx="200.59" cy="466.97" r="1.2" fill="#40a8f5"/>
<polygon points="201.71,429.98 200.29,432.53 203.14,432.53" fill="#b030f0"/>
<rect x="200.61" y="436.53" width="2.2" height="2.2" fill="#90e838"/>
<circle cx="201.71" cy="467.03" r="1.2" fill="#40a8f5"/>
<polygon points="202.82,430.24 201.39,432.79 204.24,432.79" fill="#b030f0"/>
<rect x="201.72" y="436.66" width="2.2" height="2.2" fill="#90e838"/>
<circle cx="202.82" cy="467.09" r="1.2" fill="#40a8f5"/>
<polygon points="203.9,430.48 202.48,433.03 205.33,433.03" fill="#b030f0"/>
<rect x="202.8" y="436.78" width="2.2" height="2.2" fill="#90e838"/>
<circle cx="203.9" cy="467.15" r="1.2" fill="#40a8f5"/>
<polygon points="204.97,430.72 203.54,433.27 206.39,433.27" fill="#b030f0"/>
<rect x="203.87" y="436.9" width="2.2" height="2.2" fill="#90e838"/>
<circle cx="204.97" cy="467.2" r="1.2" fill="#40a8f5"/>
<polygon points="206.01,430.94 204.58,433.49 207.43,433.49" fill="#b030f0"/>
<rect x="204.91" y="437.02" width="2.2" height="2.2" fill="#90e838"/>
<circle cx="206.01" cy="467.26" r="1.2" fill="#40a8f5"/>
<line x1="38.2" y1="368.4" x2="206.7" y2="368.4" stroke="#777" stroke-width="1"/>
<line x1="38.2" y1="368.4" x2="38.2" y2="476.3" stroke="#555" stroke-width="1"/>
<line x1="38.2" y1="476.3" x2="206.7" y2="476.3" stroke="#555" stroke-width="1"/>
<line x1="206.7" y1="368.4" x2="206.7" y2="476.3" stroke="#a8d8fa" stroke-width="0.85"/>
<line x1="36.2" y1="476.3" x2="38.2" y2="476.3" stroke="#555" stroke-width="0.8"/>
<text x="35" y="478.1" font-size="4.6" text-anchor="end" fill="#333" stroke="#333" stroke-width="0.12">10<tspan font-size="3" dy="-2">1</tspan></text>
<line x1="36.2" y1="422.35" x2="38.2" y2="422.35" stroke="#555" stroke-width="0.8"/>
<text x="35" y="424.15" font-size="4.6" text-anchor="end" fill="#333" stroke="#333" stroke-width="0.12">10<tspan font-size="3" dy="-2">2</tspan></text>
<line x1="36.2" y1="368.4" x2="38.2" y2="368.4" stroke="#555" stroke-width="0.8"/>
<text x="35" y="370.2" font-size="4.6" text-anchor="end" fill="#333" stroke="#333" stroke-width="0.12">10<tspan font-size="3" dy="-2">3</tspan></text>
<line x1="38.2" y1="476.3" x2="38.2" y2="478.3" stroke="#555" stroke-width="0.8"/>
<text x="38.2" y="483.9" font-size="5" text-anchor="middle" fill="#333" stroke="#333" stroke-width="0.12">0</text>
<line x1="56.92" y1="476.3" x2="56.92" y2="478.3" stroke="#555" stroke-width="0.8"/>
<text x="56.92" y="483.9" font-size="5" text-anchor="middle" fill="#333" stroke="#333" stroke-width="0.12">5</text>
<line x1="75.64" y1="476.3" x2="75.64" y2="478.3" stroke="#555" stroke-width="0.8"/>
<text x="75.64" y="483.9" font-size="5" text-anchor="middle" fill="#333" stroke="#333" stroke-width="0.12">10</text>
<line x1="94.37" y1="476.3" x2="94.37" y2="478.3" stroke="#555" stroke-width="0.8"/>
<text x="94.37" y="483.9" font-size="5" text-anchor="middle" fill="#333" stroke="#333" stroke-width="0.12">15</text>
<line x1="113.09" y1="476.3" x2="113.09" y2="478.3" stroke="#555" stroke-width="0.8"/>
<text x="113.09" y="483.9" font-size="5" text-anchor="middle" fill="#333" stroke="#333" stroke-width="0.12">20</text>
<line x1="131.81" y1="476.3" x2="131.81" y2="478.3" stroke="#555" stroke-width="0.8"/>
<text x="131.81" y="483.9" font-size="5" text-anchor="middle" fill="#333" stroke="#333" stroke-width="0.12">25</text>
<line x1="150.53" y1="476.3" x2="150.53" y2="478.3" stroke="#555" stroke-width="0.8"/>
<text x="150.53" y="483.9" font-size="5" text-anchor="middle" fill="#333" stroke="#333" stroke-width="0.12">30</text>
<line x1="169.26" y1="476.3" x2="169.26" y2="478.3" stroke="#555" stroke-width="0.8"/>
<text x="169.26" y="483.9" font-size="5" text-anchor="middle" fill="#333" stroke="#333" stroke-width="0.12">35</text>
<line x1="187.98" y1="476.3" x2="187.98" y2="478.3" stroke="#555" stroke-width="0.8"/>
<text x="187.98" y="483.9" font-size="5" text-anchor="middle" fill="#333" stroke="#333" stroke-width="0.12">40</text>
<line x1="206.7" y1="476.3" x2="206.7" y2="478.3" stroke="#555" stroke-width="0.8"/>
<text x="206.7" y="483.9" font-size="5" text-anchor="middle" fill="#333" stroke="#333" stroke-width="0.12">45</text>
<line x1="206.7" y1="476.3" x2="208.7" y2="476.3" stroke="#98d2fa" stroke-width="0.8"/>
<text x="209.7" y="478" font-size="4.8" fill="#98d2fa" stroke="#98d2fa" stroke-width="0.12">0</text>
<line x1="206.7" y1="454.72" x2="208.7" y2="454.72" stroke="#98d2fa" stroke-width="0.8"/>
<text x="209.7" y="456.42" font-size="4.8" fill="#98d2fa" stroke="#98d2fa" stroke-width="0.12">20</text>
<line x1="206.7" y1="433.14" x2="208.7" y2="433.14" stroke="#98d2fa" stroke-width="0.8"/>
<text x="209.7" y="434.84" font-size="4.8" fill="#98d2fa" stroke="#98d2fa" stroke-width="0.12">40</text>
<line x1="206.7" y1="411.56" x2="208.7" y2="411.56" stroke="#98d2fa" stroke-width="0.8"/>
<text x="209.7" y="413.26" font-size="4.8" fill="#98d2fa" stroke="#98d2fa" stroke-width="0.12">60</text>
<line x1="206.7" y1="389.98" x2="208.7" y2="389.98" stroke="#98d2fa" stroke-width="0.8"/>
<text x="209.7" y="391.68" font-size="4.8" fill="#98d2fa" stroke="#98d2fa" stroke-width="0.12">80</text>
<line x1="206.7" y1="368.4" x2="208.7" y2="368.4" stroke="#98d2fa" stroke-width="0.8"/>
<text x="209.7" y="370.1" font-size="4.8" fill="#98d2fa" stroke="#98d2fa" stroke-width="0.12">100</text>
<text x="25.7" y="422.35" font-size="5.6" text-anchor="middle" fill="#333" transform="rotate(-90 25.7 422.35)" stroke="#333" stroke-width="0.12">G&#39; and G&#39;&#39; (Pa)</text>
<text x="224" y="422.35" font-size="5.6" text-anchor="middle" fill="#98d2fa" transform="rotate(-90 224 422.35)" stroke="#98d2fa" stroke-width="0.12">Complex viscosity (Pa.s)</text>
<text x="122.45" y="492.1" font-size="5.6" text-anchor="middle" fill="#333" stroke="#333" stroke-width="0.12">Temperature ℃</text>
<text x="1" y="383.4" font-size="13.8" font-weight="bold" fill="#000" stroke="#000" stroke-width="0.3">F</text>
<text x="48" y="464" font-size="12.9" font-weight="bold" fill="#000">Matrix</text>
<line x1="146.3" y1="372.4" x2="158.6" y2="372.4" stroke="#d890ff" stroke-width="0.6"/>
<polygon points="152.5,370.8 150.98,373.52 154.02,373.52" fill="#b030f0"/>
<text x="159.8" y="374.4" font-size="5.6" fill="#333" stroke="#333" stroke-width="0.12">G&#39;</text>
<line x1="168.4" y1="372.4" x2="180" y2="372.4" stroke="#c8f5a0" stroke-width="0.6"/>
<rect x="174.2" y="371.3" width="2.2" height="2.2" fill="#90e838"/>
<text x="182.3" y="374.4" font-size="5.6" fill="#333" stroke="#333" stroke-width="0.12">G&#39;&#39;</text>
<line x1="146.3" y1="379.8" x2="158.6" y2="379.8" stroke="#a8dcff" stroke-width="0.6"/>
<circle cx="152.5" cy="379.8" r="1.2" fill="#40a8f5"/>
<text x="160.2" y="381.8" font-size="5.6" fill="#333" stroke="#333" stroke-width="0.12">Complex viscosity</text>
<polyline points="279.9,370.5 280.9,370.82 281.9,371.13 282.9,371.44 283.9,371.76 284.9,372.11 285.9,372.5 286.9,372.92 287.9,373.38 290.07,374.44 292.38,375.63 294.7,376.95 297.04,378.54 299.38,380.26 301.74,381.77 304.11,383.45 306.49,385.65 308.88,387.9 311.41,390.15 314.32,392.31 317.67,395.46 321.52,399.58 325.95,403.95 330.45,408.96 334.93,413.45 339.42,418.43 343.9,423.51 348.37,427.85 352.83,431.91 357.29,435.93 361.75,439.08 366.2,442.13 370.64,445.11 375.07,448.44 379.51,451.55 383.93,454.57 388.35,457.16 392.76,459.39 397.17,460.86 401.57,461.97 404.27,462.53 406.97,462.84 409.67,463.11 412.37,463.39 415.07,463.65 417.77,463.85 420.47,464.05 423.17,464.32 425.87,464.63 428.57,464.86 431.27,465.04 433.97,465.21" fill="none" stroke="#a8dcff" stroke-width="0.5" stroke-linejoin="round"/>
<polyline points="279.9,399.6 280.9,399.66 281.9,399.71 282.9,399.77 283.9,399.82 284.9,399.87 285.9,399.93 286.9,399.99 287.9,400.05 290.07,400.19 292.38,400.37 294.7,400.57 297.04,400.79 299.38,401.04 301.74,401.32 304.11,401.64 306.49,401.99 308.88,402.35 311.41,402.76 314.32,403.27 317.67,403.99 321.52,404.73 325.95,405.66 330.45,406.86 334.93,407.55 339.42,409.24 343.9,410.69 348.37,412.09 352.83,413.67 357.29,414.9 361.75,416.67 366.2,417.84 370.64,419.26 375.07,421.09 379.51,422.82 383.93,425.02 388.35,427.31 392.76,429.3 397.17,431.09 401.57,432.22 404.27,432.73 406.97,433.25 409.67,433.71 412.37,434.08 415.07,434.42 417.77,434.77 420.47,435.12 423.17,435.47 425.87,435.81 428.57,436.12 431.27,436.4 433.97,436.66" fill="none" stroke="#d890ff" stroke-width="0.5" stroke-linejoin="round"/>
<polyline points="279.9,422.7 280.9,422.79 281.9,422.89 282.9,422.98 283.9,423.07 284.9,423.16 285.9,423.25 286.9,423.34 287.9,423.43 290.07,423.62 292.38,423.84 294.7,424.06 297.04,424.29 299.38,424.53 301.74,424.79 304.11,425.05 306.49,425.32 308.88,425.6 311.41,425.91 314.32,426.28 317.67,426.74 321.52,427.32 325.95,428.06 330.45,429.07 334.93,429.89 339.42,430.62 343.9,431.22 348.37,431.84 352.83,432.63 357.29,433.45 361.75,434.21 366.2,434.99 370.64,435.81 375.07,436.7 379.51,437.72 383.93,438.81 388.35,440.01 392.76,441.1 397.17,441.95 401.57,442.58 404.27,442.85 406.97,443.1 409.67,443.34 412.37,443.56 415.07,443.73 417.77,443.87 420.47,444 423.17,444.12 425.87,444.23 428.57,444.34 431.27,444.44 433.97,444.55" fill="none" stroke="#c8f5a0" stroke-width="0.5" stroke-linejoin="round"/>
<polygon points="279.9,398.1 278.47,400.65 281.32,400.65" fill="#b030f0"/>
<rect x="278.8" y="421.6" width="2.2" height="2.2" fill="#90e838"/>
<circle cx="279.9" cy="370.5" r="1.2" fill="#40a8f5"/>
<polygon points="280.9,398.16 279.47,400.71 282.32,400.71" fill="#b030f0"/>
<rect x="279.8" y="421.69" width="2.2" height="2.2" fill="#90e838"/>
<circle cx="280.9" cy="370.82" r="1.2" fill="#40a8f5"/>
<polygon points="281.9,398.21 280.47,400.76 283.32,400.76" fill="#b030f0"/>
<rect x="280.8" y="421.79" width="2.2" height="2.2" fill="#90e838"/>
<circle cx="281.9" cy="371.13" r="1.2" fill="#40a8f5"/>
<polygon points="282.9,398.27 281.47,400.82 284.32,400.82" fill="#b030f0"/>
<rect x="281.8" y="421.88" width="2.2" height="2.2" fill="#90e838"/>
<circle cx="282.9" cy="371.44" r="1.2" fill="#40a8f5"/>
<polygon points="283.9,398.32 282.47,400.87 285.32,400.87" fill="#b030f0"/>
<rect x="282.8" y="421.97" width="2.2" height="2.2" fill="#90e838"/>
<circle cx="283.9" cy="371.76" r="1.2" fill="#40a8f5"/>
<polygon points="284.9,398.37 283.47,400.92 286.32,400.92" fill="#b030f0"/>
<rect x="283.8" y="422.06" width="2.2" height="2.2" fill="#90e838"/>
<circle cx="284.9" cy="372.11" r="1.2" fill="#40a8f5"/>
<polygon points="285.9,398.43 284.47,400.98 287.32,400.98" fill="#b030f0"/>
<rect x="284.8" y="422.15" width="2.2" height="2.2" fill="#90e838"/>
<circle cx="285.9" cy="372.5" r="1.2" fill="#40a8f5"/>
<polygon points="286.9,398.49 285.47,401.04 288.32,401.04" fill="#b030f0"/>
<rect x="285.8" y="422.24" width="2.2" height="2.2" fill="#90e838"/>
<circle cx="286.9" cy="372.92" r="1.2" fill="#40a8f5"/>
<polygon points="287.9,398.55 286.47,401.1 289.32,401.1" fill="#b030f0"/>
<rect x="286.8" y="422.33" width="2.2" height="2.2" fill="#90e838"/>
<circle cx="287.9" cy="373.38" r="1.2" fill="#40a8f5"/>
<polygon points="290.07,398.69 288.64,401.24 291.49,401.24" fill="#b030f0"/>
<rect x="288.97" y="422.52" width="2.2" height="2.2" fill="#90e838"/>
<circle cx="290.07" cy="374.44" r="1.2" fill="#40a8f5"/>
<polygon points="292.38,398.87 290.96,401.42 293.81,401.42" fill="#b030f0"/>
<rect x="291.28" y="422.74" width="2.2" height="2.2" fill="#90e838"/>
<circle cx="292.38" cy="375.63" r="1.2" fill="#40a8f5"/>
<polygon points="294.7,399.07 293.28,401.62 296.13,401.62" fill="#b030f0"/>
<rect x="293.6" y="422.96" width="2.2" height="2.2" fill="#90e838"/>
<circle cx="294.7" cy="376.95" r="1.2" fill="#40a8f5"/>
<polygon points="297.04,399.29 295.61,401.84 298.46,401.84" fill="#b030f0"/>
<rect x="295.94" y="423.19" width="2.2" height="2.2" fill="#90e838"/>
<circle cx="297.04" cy="378.54" r="1.2" fill="#40a8f5"/>
<polygon points="299.38,399.54 297.96,402.09 300.81,402.09" fill="#b030f0"/>
<rect x="298.28" y="423.43" width="2.2" height="2.2" fill="#90e838"/>
<circle cx="299.38" cy="380.26" r="1.2" fill="#40a8f5"/>
<polygon points="301.74,399.82 300.31,402.37 303.16,402.37" fill="#b030f0"/>
<rect x="300.64" y="423.69" width="2.2" height="2.2" fill="#90e838"/>
<circle cx="301.74" cy="381.77" r="1.2" fill="#40a8f5"/>
<polygon points="304.11,400.14 302.68,402.69 305.53,402.69" fill="#b030f0"/>
<rect x="303.01" y="423.95" width="2.2" height="2.2" fill="#90e838"/>
<circle cx="304.11" cy="383.45" r="1.2" fill="#40a8f5"/>
<polygon points="306.49,400.49 305.06,403.04 307.91,403.04" fill="#b030f0"/>
<rect x="305.39" y="424.22" width="2.2" height="2.2" fill="#90e838"/>
<circle cx="306.49" cy="385.65" r="1.2" fill="#40a8f5"/>
<polygon points="308.88,400.85 307.45,403.4 310.3,403.4" fill="#b030f0"/>
<rect x="307.78" y="424.5" width="2.2" height="2.2" fill="#90e838"/>
<circle cx="308.88" cy="387.9" r="1.2" fill="#40a8f5"/>
<polygon points="311.41,401.26 309.99,403.81 312.84,403.81" fill="#b030f0"/>
<rect x="310.31" y="424.81" width="2.2" height="2.2" fill="#90e838"/>
<circle cx="311.41" cy="390.15" r="1.2" fill="#40a8f5"/>
<polygon points="314.32,401.77 312.9,404.32 315.75,404.32" fill="#b030f0"/>
<rect x="313.22" y="425.18" width="2.2" height="2.2" fill="#90e838"/>
<circle cx="314.32" cy="392.31" r="1.2" fill="#40a8f5"/>
<polygon points="317.67,402.49 316.25,405.04 319.1,405.04" fill="#b030f0"/>
<rect x="316.57" y="425.64" width="2.2" height="2.2" fill="#90e838"/>
<circle cx="317.67" cy="395.46" r="1.2" fill="#40a8f5"/>
<polygon points="321.52,403.23 320.1,405.78 322.95,405.78" fill="#b030f0"/>
<rect x="320.42" y="426.22" width="2.2" height="2.2" fill="#90e838"/>
<circle cx="321.52" cy="399.58" r="1.2" fill="#40a8f5"/>
<polygon points="325.95,404.16 324.53,406.71 327.38,406.71" fill="#b030f0"/>
<rect x="324.85" y="426.96" width="2.2" height="2.2" fill="#90e838"/>
<circle cx="325.95" cy="403.95" r="1.2" fill="#40a8f5"/>
<polygon points="330.45,405.36 329.02,407.91 331.87,407.91" fill="#b030f0"/>
<rect x="329.35" y="427.97" width="2.2" height="2.2" fill="#90e838"/>
<circle cx="330.45" cy="408.96" r="1.2" fill="#40a8f5"/>
<polygon points="334.93,406.05 333.51,408.6 336.36,408.6" fill="#b030f0"/>
<rect x="333.83" y="428.79" width="2.2" height="2.2" fill="#90e838"/>
<circle cx="334.93" cy="413.45" r="1.2" fill="#40a8f5"/>
<polygon points="339.42,407.74 337.99,410.29 340.84,410.29" fill="#b030f0"/>
<rect x="338.32" y="429.52" width="2.2" height="2.2" fill="#90e838"/>
<circle cx="339.42" cy="418.43" r="1.2" fill="#40a8f5"/>
<polygon points="343.9,409.19 342.47,411.74 345.32,411.74" fill="#b030f0"/>
<rect x="342.8" y="430.12" width="2.2" height="2.2" fill="#90e838"/>
<circle cx="343.9" cy="423.51" r="1.2" fill="#40a8f5"/>
<polygon points="348.37,410.59 346.94,413.14 349.79,413.14" fill="#b030f0"/>
<rect x="347.27" y="430.74" width="2.2" height="2.2" fill="#90e838"/>
<circle cx="348.37" cy="427.85" r="1.2" fill="#40a8f5"/>
<polygon points="352.83,412.17 351.41,414.72 354.26,414.72" fill="#b030f0"/>
<rect x="351.73" y="431.53" width="2.2" height="2.2" fill="#90e838"/>
<circle cx="352.83" cy="431.91" r="1.2" fill="#40a8f5"/>
<polygon points="357.29,413.4 355.87,415.95 358.72,415.95" fill="#b030f0"/>
<rect x="356.19" y="432.35" width="2.2" height="2.2" fill="#90e838"/>
<circle cx="357.29" cy="435.93" r="1.2" fill="#40a8f5"/>
<polygon points="361.75,415.17 360.32,417.72 363.17,417.72" fill="#b030f0"/>
<rect x="360.65" y="433.11" width="2.2" height="2.2" fill="#90e838"/>
<circle cx="361.75" cy="439.08" r="1.2" fill="#40a8f5"/>
<polygon points="366.2,416.34 364.77,418.89 367.62,418.89" fill="#b030f0"/>
<rect x="365.1" y="433.89" width="2.2" height="2.2" fill="#90e838"/>
<circle cx="366.2" cy="442.13" r="1.2" fill="#40a8f5"/>
<polygon points="370.64,417.76 369.21,420.31 372.06,420.31" fill="#b030f0"/>
<rect x="369.54" y="434.71" width="2.2" height="2.2" fill="#90e838"/>
<circle cx="370.64" cy="445.11" r="1.2" fill="#40a8f5"/>
<polygon points="375.07,419.59 373.65,422.14 376.5,422.14" fill="#b030f0"/>
<rect x="373.97" y="435.6" width="2.2" height="2.2" fill="#90e838"/>
<circle cx="375.07" cy="448.44" r="1.2" fill="#40a8f5"/>
<polygon points="379.51,421.32 378.08,423.87 380.93,423.87" fill="#b030f0"/>
<rect x="378.41" y="436.62" width="2.2" height="2.2" fill="#90e838"/>
<circle cx="379.51" cy="451.55" r="1.2" fill="#40a8f5"/>
<polygon points="383.93,423.52 382.51,426.07 385.36,426.07" fill="#b030f0"/>
<rect x="382.83" y="437.71" width="2.2" height="2.2" fill="#90e838"/>
<circle cx="383.93" cy="454.57" r="1.2" fill="#40a8f5"/>
<polygon points="388.35,425.81 386.93,428.36 389.78,428.36" fill="#b030f0"/>
<rect x="387.25" y="438.91" width="2.2" height="2.2" fill="#90e838"/>
<circle cx="388.35" cy="457.16" r="1.2" fill="#40a8f5"/>
<polygon points="392.76,427.8 391.34,430.35 394.19,430.35" fill="#b030f0"/>
<rect x="391.66" y="440" width="2.2" height="2.2" fill="#90e838"/>
<circle cx="392.76" cy="459.39" r="1.2" fill="#40a8f5"/>
<polygon points="397.17,429.59 395.75,432.14 398.6,432.14" fill="#b030f0"/>
<rect x="396.07" y="440.85" width="2.2" height="2.2" fill="#90e838"/>
<circle cx="397.17" cy="460.86" r="1.2" fill="#40a8f5"/>
<polygon points="401.57,430.72 400.15,433.27 403,433.27" fill="#b030f0"/>
<rect x="400.47" y="441.48" width="2.2" height="2.2" fill="#90e838"/>
<circle cx="401.57" cy="461.97" r="1.2" fill="#40a8f5"/>
<polygon points="404.27,431.23 402.85,433.78 405.7,433.78" fill="#b030f0"/>
<rect x="403.17" y="441.75" width="2.2" height="2.2" fill="#90e838"/>
<circle cx="404.27" cy="462.53" r="1.2" fill="#40a8f5"/>
<polygon points="406.97,431.75 405.55,434.3 408.4,434.3" fill="#b030f0"/>
<rect x="405.87" y="442" width="2.2" height="2.2" fill="#90e838"/>
<circle cx="406.97" cy="462.84" r="1.2" fill="#40a8f5"/>
<polygon points="409.67,432.21 408.25,434.76 411.1,434.76" fill="#b030f0"/>
<rect x="408.57" y="442.24" width="2.2" height="2.2" fill="#90e838"/>
<circle cx="409.67" cy="463.11" r="1.2" fill="#40a8f5"/>
<polygon points="412.37,432.58 410.95,435.13 413.8,435.13" fill="#b030f0"/>
<rect x="411.27" y="442.46" width="2.2" height="2.2" fill="#90e838"/>
<circle cx="412.37" cy="463.39" r="1.2" fill="#40a8f5"/>
<polygon points="415.07,432.92 413.65,435.47 416.5,435.47" fill="#b030f0"/>
<rect x="413.97" y="442.63" width="2.2" height="2.2" fill="#90e838"/>
<circle cx="415.07" cy="463.65" r="1.2" fill="#40a8f5"/>
<polygon points="417.77,433.27 416.35,435.82 419.2,435.82" fill="#b030f0"/>
<rect x="416.67" y="442.77" width="2.2" height="2.2" fill="#90e838"/>
<circle cx="417.77" cy="463.85" r="1.2" fill="#40a8f5"/>
<polygon points="420.47,433.62 419.05,436.17 421.9,436.17" fill="#b030f0"/>
<rect x="419.37" y="442.9" width="2.2" height="2.2" fill="#90e838"/>
<circle cx="420.47" cy="464.05" r="1.2" fill="#40a8f5"/>
<polygon points="423.17,433.97 421.75,436.52 424.6,436.52" fill="#b030f0"/>
<rect x="422.07" y="443.02" width="2.2" height="2.2" fill="#90e838"/>
<circle cx="423.17" cy="464.32" r="1.2" fill="#40a8f5"/>
<polygon points="425.87,434.31 424.45,436.86 427.3,436.86" fill="#b030f0"/>
<rect x="424.77" y="443.13" width="2.2" height="2.2" fill="#90e838"/>
<circle cx="425.87" cy="464.63" r="1.2" fill="#40a8f5"/>
<polygon points="428.57,434.62 427.15,437.17 430,437.17" fill="#b030f0"/>
<rect x="427.47" y="443.24" width="2.2" height="2.2" fill="#90e838"/>
<circle cx="428.57" cy="464.86" r="1.2" fill="#40a8f5"/>
<polygon points="431.27,434.9 429.85,437.45 432.7,437.45" fill="#b030f0"/>
<rect x="430.17" y="443.34" width="2.2" height="2.2" fill="#90e838"/>
<circle cx="431.27" cy="465.04" r="1.2" fill="#40a8f5"/>
<polygon points="433.97,435.16 432.55,437.71 435.4,437.71" fill="#b030f0"/>
<rect x="432.87" y="443.45" width="2.2" height="2.2" fill="#90e838"/>
<circle cx="433.97" cy="465.21" r="1.2" fill="#40a8f5"/>
<line x1="266.8" y1="368.5" x2="435.1" y2="368.5" stroke="#777" stroke-width="1"/>
<line x1="266.8" y1="368.5" x2="266.8" y2="476.3" stroke="#555" stroke-width="1"/>
<line x1="266.8" y1="476.3" x2="435.1" y2="476.3" stroke="#555" stroke-width="1"/>
<line x1="435.1" y1="368.5" x2="435.1" y2="476.3" stroke="#a8d8fa" stroke-width="0.85"/>
<line x1="264.8" y1="476.3" x2="266.8" y2="476.3" stroke="#555" stroke-width="0.8"/>
<text x="263.6" y="478.1" font-size="4.6" text-anchor="end" fill="#333" stroke="#333" stroke-width="0.12">10<tspan font-size="3" dy="-2">1</tspan></text>
<line x1="264.8" y1="440.37" x2="266.8" y2="440.37" stroke="#555" stroke-width="0.8"/>
<text x="263.6" y="442.17" font-size="4.6" text-anchor="end" fill="#333" stroke="#333" stroke-width="0.12">10<tspan font-size="3" dy="-2">2</tspan></text>
<line x1="264.8" y1="404.43" x2="266.8" y2="404.43" stroke="#555" stroke-width="0.8"/>
<text x="263.6" y="406.23" font-size="4.6" text-anchor="end" fill="#333" stroke="#333" stroke-width="0.12">10<tspan font-size="3" dy="-2">3</tspan></text>
<line x1="264.8" y1="368.5" x2="266.8" y2="368.5" stroke="#555" stroke-width="0.8"/>
<text x="263.6" y="370.3" font-size="4.6" text-anchor="end" fill="#333" stroke="#333" stroke-width="0.12">10<tspan font-size="3" dy="-2">4</tspan></text>
<line x1="266.8" y1="476.3" x2="266.8" y2="478.3" stroke="#555" stroke-width="0.8"/>
<text x="266.8" y="483.9" font-size="5" text-anchor="middle" fill="#333" stroke="#333" stroke-width="0.12">0</text>
<line x1="285.5" y1="476.3" x2="285.5" y2="478.3" stroke="#555" stroke-width="0.8"/>
<text x="285.5" y="483.9" font-size="5" text-anchor="middle" fill="#333" stroke="#333" stroke-width="0.12">5</text>
<line x1="304.2" y1="476.3" x2="304.2" y2="478.3" stroke="#555" stroke-width="0.8"/>
<text x="304.2" y="483.9" font-size="5" text-anchor="middle" fill="#333" stroke="#333" stroke-width="0.12">10</text>
<line x1="322.9" y1="476.3" x2="322.9" y2="478.3" stroke="#555" stroke-width="0.8"/>
<text x="322.9" y="483.9" font-size="5" text-anchor="middle" fill="#333" stroke="#333" stroke-width="0.12">15</text>
<line x1="341.6" y1="476.3" x2="341.6" y2="478.3" stroke="#555" stroke-width="0.8"/>
<text x="341.6" y="483.9" font-size="5" text-anchor="middle" fill="#333" stroke="#333" stroke-width="0.12">20</text>
<line x1="360.3" y1="476.3" x2="360.3" y2="478.3" stroke="#555" stroke-width="0.8"/>
<text x="360.3" y="483.9" font-size="5" text-anchor="middle" fill="#333" stroke="#333" stroke-width="0.12">25</text>
<line x1="379" y1="476.3" x2="379" y2="478.3" stroke="#555" stroke-width="0.8"/>
<text x="379" y="483.9" font-size="5" text-anchor="middle" fill="#333" stroke="#333" stroke-width="0.12">30</text>
<line x1="397.7" y1="476.3" x2="397.7" y2="478.3" stroke="#555" stroke-width="0.8"/>
<text x="397.7" y="483.9" font-size="5" text-anchor="middle" fill="#333" stroke="#333" stroke-width="0.12">35</text>
<line x1="416.4" y1="476.3" x2="416.4" y2="478.3" stroke="#555" stroke-width="0.8"/>
<text x="416.4" y="483.9" font-size="5" text-anchor="middle" fill="#333" stroke="#333" stroke-width="0.12">40</text>
<line x1="435.1" y1="476.3" x2="435.1" y2="478.3" stroke="#555" stroke-width="0.8"/>
<text x="435.1" y="483.9" font-size="5" text-anchor="middle" fill="#333" stroke="#333" stroke-width="0.12">45</text>
<line x1="435.1" y1="476.3" x2="437.1" y2="476.3" stroke="#98d2fa" stroke-width="0.8"/>
<text x="438.1" y="478" font-size="4.8" fill="#98d2fa" stroke="#98d2fa" stroke-width="0.12">0</text>
<line x1="435.1" y1="449.35" x2="437.1" y2="449.35" stroke="#98d2fa" stroke-width="0.8"/>
<text x="438.1" y="451.05" font-size="4.8" fill="#98d2fa" stroke="#98d2fa" stroke-width="0.12">35</text>
<line x1="435.1" y1="422.4" x2="437.1" y2="422.4" stroke="#98d2fa" stroke-width="0.8"/>
<text x="438.1" y="424.1" font-size="4.8" fill="#98d2fa" stroke="#98d2fa" stroke-width="0.12">70</text>
<line x1="435.1" y1="395.45" x2="437.1" y2="395.45" stroke="#98d2fa" stroke-width="0.8"/>
<text x="438.1" y="397.15" font-size="4.8" fill="#98d2fa" stroke="#98d2fa" stroke-width="0.12">105</text>
<line x1="435.1" y1="368.5" x2="437.1" y2="368.5" stroke="#98d2fa" stroke-width="0.8"/>
<text x="438.1" y="370.2" font-size="4.8" fill="#98d2fa" stroke="#98d2fa" stroke-width="0.12">140</text>
<text x="254.3" y="422.4" font-size="5.6" text-anchor="middle" fill="#333" transform="rotate(-90 254.3 422.4)" stroke="#333" stroke-width="0.12">G&#39; and G&#39;&#39; (Pa)</text>
<text x="452.4" y="422.4" font-size="5.6" text-anchor="middle" fill="#98d2fa" transform="rotate(-90 452.4 422.4)" stroke="#98d2fa" stroke-width="0.12">Complex viscosity (Pa.s)</text>
<text x="350.95" y="492.1" font-size="5.6" text-anchor="middle" fill="#333" stroke="#333" stroke-width="0.12">Temperature ℃</text>
<text x="230" y="383.5" font-size="13.8" font-weight="bold" fill="#000" stroke="#000" stroke-width="0.3">G</text>
<text x="275.8" y="466.1" font-size="12.9" font-weight="bold" fill="#000">ASFH-L</text>
<line x1="374.2" y1="372.5" x2="386.5" y2="372.5" stroke="#d890ff" stroke-width="0.6"/>
<polygon points="380.4,370.9 378.88,373.62 381.92,373.62" fill="#b030f0"/>
<text x="387.7" y="374.5" font-size="5.6" fill="#333" stroke="#333" stroke-width="0.12">G&#39;</text>
<line x1="396.3" y1="372.5" x2="407.9" y2="372.5" stroke="#c8f5a0" stroke-width="0.6"/>
<rect x="402.1" y="371.4" width="2.2" height="2.2" fill="#90e838"/>
<text x="410.2" y="374.5" font-size="5.6" fill="#333" stroke="#333" stroke-width="0.12">G&#39;&#39;</text>
<line x1="374.2" y1="379.9" x2="386.5" y2="379.9" stroke="#a8dcff" stroke-width="0.6"/>
<circle cx="380.4" cy="379.9" r="1.2" fill="#40a8f5"/>
<text x="388.1" y="381.9" font-size="5.6" fill="#333" stroke="#333" stroke-width="0.12">Complex viscosity</text>
<polyline points="510.5,386.5 511.5,386.65 512.5,386.8 513.5,386.94 514.5,387.11 515.5,387.31 516.5,387.57 517.5,387.96 518.5,388.44 519.5,388.95 521.05,389.72 523.16,390.72 525.28,391.78 527.42,392.94 529.58,394.21 531.75,395.56 533.94,397.02 536.4,398.85 539.54,401.13 543.01,403.63 546.71,406.81 550.66,410.07 554.87,413.83 559.36,418.02 563.85,422.09 568.34,426.27 572.82,430.23 577.3,434.2 581.77,437.86 586.23,441.03 590.69,443.86 595.14,446.71 599.58,449.53 604.02,452.5 608.45,455.58 612.88,458.61 617.3,461.13 621.71,463.11 626.12,464.82 630.52,465.78 633.22,466.21 635.92,466.5 638.62,466.66 641.32,466.84 644.02,467.12 646.72,467.39 649.42,467.58 652.12,467.74 654.82,467.89 657.52,468.06 660.22,468.24 662.92,468.42 665.6,468.61" fill="none" stroke="#a8dcff" stroke-width="0.5" stroke-linejoin="round"/>
<polyline points="510.5,401.1 511.5,401.15 512.5,401.2 513.5,401.24 514.5,401.29 515.5,401.34 516.5,401.38 517.5,401.43 518.5,401.48 519.5,401.54 521.05,401.63 523.16,401.79 525.28,402.01 527.42,402.27 529.58,402.56 531.75,402.86 533.94,403.17 536.4,403.48 539.54,403.92 543.01,404.64 546.71,405.74 550.66,406.51 554.87,407.26 559.36,408.14 563.85,409.31 568.34,410.54 572.82,411.91 577.3,413.32 581.77,414.85 586.23,416.43 590.69,417.68 595.14,419.18 599.58,420.8 604.02,422.78 608.45,425.21 612.88,427.76 617.3,430.52 621.71,432.98 626.12,435.11 630.52,436.41 633.22,437.06 635.92,437.69 638.62,438.32 641.32,438.74 644.02,439.04 646.72,439.37 649.42,439.91 652.12,440.48 654.82,440.94 657.52,441.37 660.22,441.79 662.92,442.21 665.6,442.62" fill="none" stroke="#d890ff" stroke-width="0.5" stroke-linejoin="round"/>
<polyline points="510.5,422.1 511.5,422.21 512.5,422.31 513.5,422.41 514.5,422.52 515.5,422.62 516.5,422.73 517.5,422.83 518.5,422.93 519.5,423.04 521.05,423.2 523.16,423.42 525.28,423.64 527.42,423.87 529.58,424.1 531.75,424.33 533.94,424.57 536.4,424.84 539.54,425.18 543.01,425.71 546.71,426.43 550.66,426.93 554.87,427.32 559.36,427.78 563.85,428.83 568.34,429.73 572.82,430.75 577.3,431.49 581.77,432.38 586.23,433.1 590.69,433.82 595.14,434.65 599.58,435.41 604.02,436.44 608.45,437.77 612.88,439.22 617.3,440.77 621.71,442.09 626.12,443.39 630.52,444.19 633.22,444.59 635.92,445 638.62,445.32 641.32,445.53 644.02,445.71 646.72,445.89 649.42,446.1 652.12,446.33 654.82,446.56 657.52,446.77 660.22,446.95 662.92,447.13 665.6,447.31" fill="none" stroke="#c8f5a0" stroke-width="0.5" stroke-linejoin="round"/>
<polygon points="510.5,399.6 509.07,402.15 511.93,402.15" fill="#b030f0"/>
<rect x="509.4" y="421" width="2.2" height="2.2" fill="#90e838"/>
<circle cx="510.5" cy="386.5" r="1.2" fill="#40a8f5"/>
<polygon points="511.5,399.65 510.07,402.2 512.92,402.2" fill="#b030f0"/>
<rect x="510.4" y="421.11" width="2.2" height="2.2" fill="#90e838"/>
<circle cx="511.5" cy="386.65" r="1.2" fill="#40a8f5"/>
<polygon points="512.5,399.7 511.07,402.25 513.92,402.25" fill="#b030f0"/>
<rect x="511.4" y="421.21" width="2.2" height="2.2" fill="#90e838"/>
<circle cx="512.5" cy="386.8" r="1.2" fill="#40a8f5"/>
<polygon points="513.5,399.74 512.08,402.29 514.92,402.29" fill="#b030f0"/>
<rect x="512.4" y="421.31" width="2.2" height="2.2" fill="#90e838"/>
<circle cx="513.5" cy="386.94" r="1.2" fill="#40a8f5"/>
<polygon points="514.5,399.79 513.08,402.34 515.92,402.34" fill="#b030f0"/>
<rect x="513.4" y="421.42" width="2.2" height="2.2" fill="#90e838"/>
<circle cx="514.5" cy="387.11" r="1.2" fill="#40a8f5"/>
<polygon points="515.5,399.84 514.08,402.39 516.92,402.39" fill="#b030f0"/>
<rect x="514.4" y="421.52" width="2.2" height="2.2" fill="#90e838"/>
<circle cx="515.5" cy="387.31" r="1.2" fill="#40a8f5"/>
<polygon points="516.5,399.88 515.08,402.43 517.92,402.43" fill="#b030f0"/>
<rect x="515.4" y="421.63" width="2.2" height="2.2" fill="#90e838"/>
<circle cx="516.5" cy="387.57" r="1.2" fill="#40a8f5"/>
<polygon points="517.5,399.93 516.08,402.48 518.92,402.48" fill="#b030f0"/>
<rect x="516.4" y="421.73" width="2.2" height="2.2" fill="#90e838"/>
<circle cx="517.5" cy="387.96" r="1.2" fill="#40a8f5"/>
<polygon points="518.5,399.98 517.08,402.53 519.92,402.53" fill="#b030f0"/>
<rect x="517.4" y="421.83" width="2.2" height="2.2" fill="#90e838"/>
<circle cx="518.5" cy="388.44" r="1.2" fill="#40a8f5"/>
<polygon points="519.5,400.04 518.08,402.59 520.92,402.59" fill="#b030f0"/>
<rect x="518.4" y="421.94" width="2.2" height="2.2" fill="#90e838"/>
<circle cx="519.5" cy="388.95" r="1.2" fill="#40a8f5"/>
<polygon points="521.05,400.13 519.62,402.68 522.47,402.68" fill="#b030f0"/>
<rect x="519.95" y="422.1" width="2.2" height="2.2" fill="#90e838"/>
<circle cx="521.05" cy="389.72" r="1.2" fill="#40a8f5"/>
<polygon points="523.16,400.29 521.73,402.84 524.58,402.84" fill="#b030f0"/>
<rect x="522.06" y="422.32" width="2.2" height="2.2" fill="#90e838"/>
<circle cx="523.16" cy="390.72" r="1.2" fill="#40a8f5"/>
<polygon points="525.28,400.51 523.86,403.06 526.71,403.06" fill="#b030f0"/>
<rect x="524.18" y="422.54" width="2.2" height="2.2" fill="#90e838"/>
<circle cx="525.28" cy="391.78" r="1.2" fill="#40a8f5"/>
<polygon points="527.42,400.77 526,403.32 528.85,403.32" fill="#b030f0"/>
<rect x="526.32" y="422.77" width="2.2" height="2.2" fill="#90e838"/>
<circle cx="527.42" cy="392.94" r="1.2" fill="#40a8f5"/>
<polygon points="529.58,401.06 528.16,403.61 531.01,403.61" fill="#b030f0"/>
<rect x="528.48" y="423" width="2.2" height="2.2" fill="#90e838"/>
<circle cx="529.58" cy="394.21" r="1.2" fill="#40a8f5"/>
<polygon points="531.75,401.36 530.33,403.91 533.18,403.91" fill="#b030f0"/>
<rect x="530.65" y="423.23" width="2.2" height="2.2" fill="#90e838"/>
<circle cx="531.75" cy="395.56" r="1.2" fill="#40a8f5"/>
<polygon points="533.94,401.67 532.52,404.22 535.37,404.22" fill="#b030f0"/>
<rect x="532.84" y="423.47" width="2.2" height="2.2" fill="#90e838"/>
<circle cx="533.94" cy="397.02" r="1.2" fill="#40a8f5"/>
<polygon points="536.4,401.98 534.98,404.53 537.83,404.53" fill="#b030f0"/>
<rect x="535.3" y="423.74" width="2.2" height="2.2" fill="#90e838"/>
<circle cx="536.4" cy="398.85" r="1.2" fill="#40a8f5"/>
<polygon points="539.54,402.42 538.11,404.97 540.96,404.97" fill="#b030f0"/>
<rect x="538.44" y="424.08" width="2.2" height="2.2" fill="#90e838"/>
<circle cx="539.54" cy="401.13" r="1.2" fill="#40a8f5"/>
<polygon points="543.01,403.14 541.58,405.69 544.43,405.69" fill="#b030f0"/>
<rect x="541.91" y="424.61" width="2.2" height="2.2" fill="#90e838"/>
<circle cx="543.01" cy="403.63" r="1.2" fill="#40a8f5"/>
<polygon points="546.71,404.24 545.28,406.79 548.13,406.79" fill="#b030f0"/>
<rect x="545.61" y="425.33" width="2.2" height="2.2" fill="#90e838"/>
<circle cx="546.71" cy="406.81" r="1.2" fill="#40a8f5"/>
<polygon points="550.66,405.01 549.23,407.56 552.08,407.56" fill="#b030f0"/>
<rect x="549.56" y="425.83" width="2.2" height="2.2" fill="#90e838"/>
<circle cx="550.66" cy="410.07" r="1.2" fill="#40a8f5"/>
<polygon points="554.87,405.76 553.44,408.31 556.29,408.31" fill="#b030f0"/>
<rect x="553.77" y="426.22" width="2.2" height="2.2" fill="#90e838"/>
<circle cx="554.87" cy="413.83" r="1.2" fill="#40a8f5"/>
<polygon points="559.36,406.64 557.93,409.19 560.78,409.19" fill="#b030f0"/>
<rect x="558.26" y="426.68" width="2.2" height="2.2" fill="#90e838"/>
<circle cx="559.36" cy="418.02" r="1.2" fill="#40a8f5"/>
<polygon points="563.85,407.81 562.43,410.36 565.28,410.36" fill="#b030f0"/>
<rect x="562.75" y="427.73" width="2.2" height="2.2" fill="#90e838"/>
<circle cx="563.85" cy="422.09" r="1.2" fill="#40a8f5"/>
<polygon points="568.34,409.04 566.92,411.59 569.77,411.59" fill="#b030f0"/>
<rect x="567.24" y="428.63" width="2.2" height="2.2" fill="#90e838"/>
<circle cx="568.34" cy="426.27" r="1.2" fill="#40a8f5"/>
<polygon points="572.82,410.41 571.4,412.96 574.25,412.96" fill="#b030f0"/>
<rect x="571.72" y="429.65" width="2.2" height="2.2" fill="#90e838"/>
<circle cx="572.82" cy="430.23" r="1.2" fill="#40a8f5"/>
<polygon points="577.3,411.82 575.87,414.37 578.72,414.37" fill="#b030f0"/>
<rect x="576.2" y="430.39" width="2.2" height="2.2" fill="#90e838"/>
<circle cx="577.3" cy="434.2" r="1.2" fill="#40a8f5"/>
<polygon points="581.77,413.35 580.34,415.9 583.19,415.9" fill="#b030f0"/>
<rect x="580.67" y="431.28" width="2.2" height="2.2" fill="#90e838"/>
<circle cx="581.77" cy="437.86" r="1.2" fill="#40a8f5"/>
<polygon points="586.23,414.93 584.8,417.48 587.65,417.48" fill="#b030f0"/>
<rect x="585.13" y="432" width="2.2" height="2.2" fill="#90e838"/>
<circle cx="586.23" cy="441.03" r="1.2" fill="#40a8f5"/>
<polygon points="590.69,416.18 589.26,418.73 592.11,418.73" fill="#b030f0"/>
<rect x="589.59" y="432.72" width="2.2" height="2.2" fill="#90e838"/>
<circle cx="590.69" cy="443.86" r="1.2" fill="#40a8f5"/>
<polygon points="595.14,417.68 593.71,420.23 596.56,420.23" fill="#b030f0"/>
<rect x="594.04" y="433.55" width="2.2" height="2.2" fill="#90e838"/>
<circle cx="595.14" cy="446.71" r="1.2" fill="#40a8f5"/>
<polygon points="599.58,419.3 598.16,421.85 601.01,421.85" fill="#b030f0"/>
<rect x="598.48" y="434.31" width="2.2" height="2.2" fill="#90e838"/>
<circle cx="599.58" cy="449.53" r="1.2" fill="#40a8f5"/>
<polygon points="604.02,421.28 602.59,423.83 605.44,423.83" fill="#b030f0"/>
<rect x="602.92" y="435.34" width="2.2" height="2.2" fill="#90e838"/>
<circle cx="604.02" cy="452.5" r="1.2" fill="#40a8f5"/>
<polygon points="608.45,423.71 607.03,426.26 609.88,426.26" fill="#b030f0"/>
<rect x="607.35" y="436.67" width="2.2" height="2.2" fill="#90e838"/>
<circle cx="608.45" cy="455.58" r="1.2" fill="#40a8f5"/>
<polygon points="612.88,426.26 611.45,428.81 614.3,428.81" fill="#b030f0"/>
<rect x="611.78" y="438.12" width="2.2" height="2.2" fill="#90e838"/>
<circle cx="612.88" cy="458.61" r="1.2" fill="#40a8f5"/>
<polygon points="617.3,429.02 615.87,431.57 618.72,431.57" fill="#b030f0"/>
<rect x="616.2" y="439.67" width="2.2" height="2.2" fill="#90e838"/>
<circle cx="617.3" cy="461.13" r="1.2" fill="#40a8f5"/>
<polygon points="621.71,431.48 620.28,434.03 623.13,434.03" fill="#b030f0"/>
<rect x="620.61" y="440.99" width="2.2" height="2.2" fill="#90e838"/>
<circle cx="621.71" cy="463.11" r="1.2" fill="#40a8f5"/>
<polygon points="626.12,433.61 624.69,436.16 627.54,436.16" fill="#b030f0"/>
<rect x="625.02" y="442.29" width="2.2" height="2.2" fill="#90e838"/>
<circle cx="626.12" cy="464.82" r="1.2" fill="#40a8f5"/>
<polygon points="630.52,434.91 629.09,437.46 631.94,437.46" fill="#b030f0"/>
<rect x="629.42" y="443.09" width="2.2" height="2.2" fill="#90e838"/>
<circle cx="630.52" cy="465.78" r="1.2" fill="#40a8f5"/>
<polygon points="633.22,435.56 631.79,438.11 634.64,438.11" fill="#b030f0"/>
<rect x="632.12" y="443.49" width="2.2" height="2.2" fill="#90e838"/>
<circle cx="633.22" cy="466.21" r="1.2" fill="#40a8f5"/>
<polygon points="635.92,436.19 634.49,438.74 637.34,438.74" fill="#b030f0"/>
<rect x="634.82" y="443.9" width="2.2" height="2.2" fill="#90e838"/>
<circle cx="635.92" cy="466.5" r="1.2" fill="#40a8f5"/>
<polygon points="638.62,436.82 637.19,439.37 640.04,439.37" fill="#b030f0"/>
<rect x="637.52" y="444.22" width="2.2" height="2.2" fill="#90e838"/>
<circle cx="638.62" cy="466.66" r="1.2" fill="#40a8f5"/>
<polygon points="641.32,437.24 639.89,439.79 642.74,439.79" fill="#b030f0"/>
<rect x="640.22" y="444.43" width="2.2" height="2.2" fill="#90e838"/>
<circle cx="641.32" cy="466.84" r="1.2" fill="#40a8f5"/>
<polygon points="644.02,437.54 642.59,440.09 645.44,440.09" fill="#b030f0"/>
<rect x="642.92" y="444.61" width="2.2" height="2.2" fill="#90e838"/>
<circle cx="644.02" cy="467.12" r="1.2" fill="#40a8f5"/>
<polygon points="646.72,437.87 645.29,440.42 648.14,440.42" fill="#b030f0"/>
<rect x="645.62" y="444.79" width="2.2" height="2.2" fill="#90e838"/>
<circle cx="646.72" cy="467.39" r="1.2" fill="#40a8f5"/>
<polygon points="649.42,438.41 647.99,440.96 650.84,440.96" fill="#b030f0"/>
<rect x="648.32" y="445" width="2.2" height="2.2" fill="#90e838"/>
<circle cx="649.42" cy="467.58" r="1.2" fill="#40a8f5"/>
<polygon points="652.12,438.98 650.69,441.53 653.54,441.53" fill="#b030f0"/>
<rect x="651.02" y="445.23" width="2.2" height="2.2" fill="#90e838"/>
<circle cx="652.12" cy="467.74" r="1.2" fill="#40a8f5"/>
<polygon points="654.82,439.44 653.39,441.99 656.24,441.99" fill="#b030f0"/>
<rect x="653.72" y="445.46" width="2.2" height="2.2" fill="#90e838"/>
<circle cx="654.82" cy="467.89" r="1.2" fill="#40a8f5"/>
<polygon points="657.52,439.87 656.09,442.42 658.94,442.42" fill="#b030f0"/>
<rect x="656.42" y="445.67" width="2.2" height="2.2" fill="#90e838"/>
<circle cx="657.52" cy="468.06" r="1.2" fill="#40a8f5"/>
<polygon points="660.22,440.29 658.79,442.84 661.64,442.84" fill="#b030f0"/>
<rect x="659.12" y="445.85" width="2.2" height="2.2" fill="#90e838"/>
<circle cx="660.22" cy="468.24" r="1.2" fill="#40a8f5"/>
<polygon points="662.92,440.71 661.49,443.26 664.34,443.26" fill="#b030f0"/>
<rect x="661.82" y="446.03" width="2.2" height="2.2" fill="#90e838"/>
<circle cx="662.92" cy="468.42" r="1.2" fill="#40a8f5"/>
<polygon points="665.6,441.12 664.18,443.67 667.02,443.67" fill="#b030f0"/>
<rect x="664.5" y="446.21" width="2.2" height="2.2" fill="#90e838"/>
<circle cx="665.6" cy="468.61" r="1.2" fill="#40a8f5"/>
<line x1="497" y1="368.1" x2="665.6" y2="368.1" stroke="#777" stroke-width="1"/>
<line x1="497" y1="368.1" x2="497" y2="476.2" stroke="#808080" stroke-width="1.1"/>
<line x1="497" y1="476.2" x2="665.6" y2="476.2" stroke="#555" stroke-width="1"/>
<line x1="665.6" y1="368.1" x2="665.6" y2="476.2" stroke="#a8d8fa" stroke-width="0.85"/>
<line x1="495" y1="476.2" x2="497" y2="476.2" stroke="#555" stroke-width="0.8"/>
<text x="493.8" y="478" font-size="4.6" text-anchor="end" fill="#333" stroke="#333" stroke-width="0.12">10<tspan font-size="3" dy="-2">1</tspan></text>
<line x1="495" y1="440.17" x2="497" y2="440.17" stroke="#555" stroke-width="0.8"/>
<text x="493.8" y="441.97" font-size="4.6" text-anchor="end" fill="#333" stroke="#333" stroke-width="0.12">10<tspan font-size="3" dy="-2">2</tspan></text>
<line x1="495" y1="404.13" x2="497" y2="404.13" stroke="#555" stroke-width="0.8"/>
<text x="493.8" y="405.93" font-size="4.6" text-anchor="end" fill="#333" stroke="#333" stroke-width="0.12">10<tspan font-size="3" dy="-2">3</tspan></text>
<line x1="495" y1="368.1" x2="497" y2="368.1" stroke="#555" stroke-width="0.8"/>
<text x="493.8" y="369.9" font-size="4.6" text-anchor="end" fill="#333" stroke="#333" stroke-width="0.12">10<tspan font-size="3" dy="-2">4</tspan></text>
<line x1="497" y1="476.2" x2="497" y2="478.2" stroke="#555" stroke-width="0.8"/>
<text x="497" y="483.8" font-size="5" text-anchor="middle" fill="#333" stroke="#333" stroke-width="0.12">0</text>
<line x1="515.73" y1="476.2" x2="515.73" y2="478.2" stroke="#555" stroke-width="0.8"/>
<text x="515.73" y="483.8" font-size="5" text-anchor="middle" fill="#333" stroke="#333" stroke-width="0.12">5</text>
<line x1="534.47" y1="476.2" x2="534.47" y2="478.2" stroke="#555" stroke-width="0.8"/>
<text x="534.47" y="483.8" font-size="5" text-anchor="middle" fill="#333" stroke="#333" stroke-width="0.12">10</text>
<line x1="553.2" y1="476.2" x2="553.2" y2="478.2" stroke="#555" stroke-width="0.8"/>
<text x="553.2" y="483.8" font-size="5" text-anchor="middle" fill="#333" stroke="#333" stroke-width="0.12">15</text>
<line x1="571.93" y1="476.2" x2="571.93" y2="478.2" stroke="#555" stroke-width="0.8"/>
<text x="571.93" y="483.8" font-size="5" text-anchor="middle" fill="#333" stroke="#333" stroke-width="0.12">20</text>
<line x1="590.67" y1="476.2" x2="590.67" y2="478.2" stroke="#555" stroke-width="0.8"/>
<text x="590.67" y="483.8" font-size="5" text-anchor="middle" fill="#333" stroke="#333" stroke-width="0.12">25</text>
<line x1="609.4" y1="476.2" x2="609.4" y2="478.2" stroke="#555" stroke-width="0.8"/>
<text x="609.4" y="483.8" font-size="5" text-anchor="middle" fill="#333" stroke="#333" stroke-width="0.12">30</text>
<line x1="628.13" y1="476.2" x2="628.13" y2="478.2" stroke="#555" stroke-width="0.8"/>
<text x="628.13" y="483.8" font-size="5" text-anchor="middle" fill="#333" stroke="#333" stroke-width="0.12">35</text>
<line x1="646.87" y1="476.2" x2="646.87" y2="478.2" stroke="#555" stroke-width="0.8"/>
<text x="646.87" y="483.8" font-size="5" text-anchor="middle" fill="#333" stroke="#333" stroke-width="0.12">40</text>
<line x1="665.6" y1="476.2" x2="665.6" y2="478.2" stroke="#555" stroke-width="0.8"/>
<text x="665.6" y="483.8" font-size="5" text-anchor="middle" fill="#333" stroke="#333" stroke-width="0.12">45</text>
<line x1="665.6" y1="476.2" x2="667.6" y2="476.2" stroke="#98d2fa" stroke-width="0.8"/>
<text x="668.6" y="477.9" font-size="4.8" fill="#98d2fa" stroke="#98d2fa" stroke-width="0.12">0</text>
<line x1="665.6" y1="454.58" x2="667.6" y2="454.58" stroke="#98d2fa" stroke-width="0.8"/>
<text x="668.6" y="456.28" font-size="4.8" fill="#98d2fa" stroke="#98d2fa" stroke-width="0.12">30</text>
<line x1="665.6" y1="432.96" x2="667.6" y2="432.96" stroke="#98d2fa" stroke-width="0.8"/>
<text x="668.6" y="434.66" font-size="4.8" fill="#98d2fa" stroke="#98d2fa" stroke-width="0.12">60</text>
<line x1="665.6" y1="411.34" x2="667.6" y2="411.34" stroke="#98d2fa" stroke-width="0.8"/>
<text x="668.6" y="413.04" font-size="4.8" fill="#98d2fa" stroke="#98d2fa" stroke-width="0.12">90</text>
<line x1="665.6" y1="389.72" x2="667.6" y2="389.72" stroke="#98d2fa" stroke-width="0.8"/>
<text x="668.6" y="391.42" font-size="4.8" fill="#98d2fa" stroke="#98d2fa" stroke-width="0.12">120</text>
<line x1="665.6" y1="368.1" x2="667.6" y2="368.1" stroke="#98d2fa" stroke-width="0.8"/>
<text x="668.6" y="369.8" font-size="4.8" fill="#98d2fa" stroke="#98d2fa" stroke-width="0.12">150</text>
<text x="484.5" y="422.15" font-size="5.6" text-anchor="middle" fill="#333" transform="rotate(-90 484.5 422.15)" stroke="#333" stroke-width="0.12">G&#39; and G&#39;&#39; (Pa)</text>
<text x="682.9" y="422.15" font-size="5.6" text-anchor="middle" fill="#98d2fa" transform="rotate(-90 682.9 422.15)" stroke="#98d2fa" stroke-width="0.12">Complex viscosity (Pa.s)</text>
<text x="581.3" y="492" font-size="5.6" text-anchor="middle" fill="#333" stroke="#333" stroke-width="0.12">Temperature ℃</text>
<text x="458.8" y="383.1" font-size="13.8" font-weight="bold" fill="#000" stroke="#000" stroke-width="0.3">H</text>
<text x="528" y="466.2" font-size="12.9" font-weight="bold" fill="#000">ASFH-H</text>
<line x1="604.7" y1="372.1" x2="617" y2="372.1" stroke="#d890ff" stroke-width="0.6"/>
<polygon points="610.9,370.5 609.38,373.22 612.42,373.22" fill="#b030f0"/>
<text x="618.2" y="374.1" font-size="5.6" fill="#333" stroke="#333" stroke-width="0.12">G&#39;</text>
<line x1="626.8" y1="372.1" x2="638.4" y2="372.1" stroke="#c8f5a0" stroke-width="0.6"/>
<rect x="632.6" y="371" width="2.2" height="2.2" fill="#90e838"/>
<text x="640.7" y="374.1" font-size="5.6" fill="#333" stroke="#333" stroke-width="0.12">G&#39;&#39;</text>
<line x1="604.7" y1="379.5" x2="617" y2="379.5" stroke="#a8dcff" stroke-width="0.6"/>
<circle cx="610.9" cy="379.5" r="1.2" fill="#40a8f5"/>
<text x="618.6" y="381.5" font-size="5.6" fill="#333" stroke="#333" stroke-width="0.12">Complex viscosity</text>
</svg></body></html>
